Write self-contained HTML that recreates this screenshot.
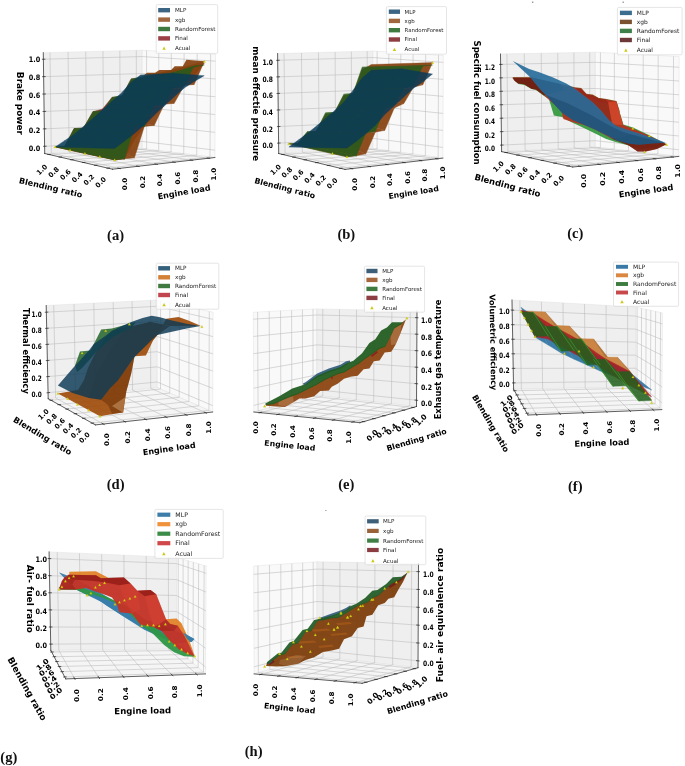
<!DOCTYPE html>
<html lang="en"><head><meta charset="utf-8"><title>Model prediction surfaces</title>
<style>
html,body{margin:0;padding:0;background:#fff;}
body{width:685px;height:766px;overflow:hidden;}
svg{display:block;}
text{white-space:pre;}
</style></head><body>
<svg width="685" height="766" viewBox="0 0 685 766">
<rect width="685" height="766" fill="#fff"/>
<g id="plot-a">
<polygon points="44.7,153.5 142.3,148.5 142.2,50.2 43.3,52.7" fill="#efefef" stroke="#e0e0e0" stroke-width="0.45"/>
<polygon points="142.3,148.5 214.9,157.5 215.6,54.5 142.2,50.2" fill="#f9f9f9" stroke="#e0e0e0" stroke-width="0.5"/>
<polygon points="112.5,169.2 214.9,157.5 142.3,148.5 44.7,153.5" fill="#f5f5f5" stroke="#e0e0e0" stroke-width="0.5"/>
<g stroke="#b9b9b9" stroke-width="0.55" fill="none">
<path d="M119.44 168.41L51.31 153.16"/>
<path d="M51.31 153.16L50 52.53"/>
<path d="M138.16 166.27L69.16 152.25"/>
<path d="M69.16 152.25L68.08 52.07"/>
<path d="M156.44 164.18L86.58 151.35"/>
<path d="M86.58 151.35L85.74 51.63"/>
<path d="M174.29 162.14L103.6 150.48"/>
<path d="M103.6 150.48L102.98 51.19"/>
<path d="M191.74 160.15L120.22 149.63"/>
<path d="M120.22 149.63L119.83 50.77"/>
<path d="M208.78 158.2L136.47 148.8"/>
<path d="M136.47 148.8L136.29 50.35"/>
<path d="M107.91 168.14L209.98 156.89"/>
<path d="M209.98 156.89L210.63 54.21"/>
<path d="M95.51 165.27L196.71 155.24"/>
<path d="M196.71 155.24L197.21 53.42"/>
<path d="M83.41 162.46L183.75 153.64"/>
<path d="M183.75 153.64L184.1 52.65"/>
<path d="M71.59 159.73L171.09 152.07"/>
<path d="M171.09 152.07L171.31 51.91"/>
<path d="M60.04 157.05L158.72 150.54"/>
<path d="M158.72 150.54L158.8 51.17"/>
<path d="M48.75 154.44L146.64 149.04"/>
<path d="M146.64 149.04L146.58 50.46"/>
<path d="M44.6 146.28L142.29 141.45"/>
<path d="M142.29 141.45L214.95 150.12"/>
<path d="M44.36 128.87L142.28 124.48"/>
<path d="M142.28 124.48L215.07 132.33"/>
<path d="M44.12 111.46L142.26 107.5"/>
<path d="M142.26 107.5L215.19 114.54"/>
<path d="M43.87 94.05L142.24 90.52"/>
<path d="M142.24 90.52L215.31 96.75"/>
<path d="M43.63 76.64L142.22 73.54"/>
<path d="M142.22 73.54L215.43 78.96"/>
<path d="M43.39 59.23L142.21 56.57"/>
<path d="M142.21 56.57L215.55 61.17"/>
</g>
<g stroke="#222" stroke-width="0.7" stroke-linecap="square">
<path d="M44.7 153.5L43.3 52.7"/>
<path d="M112.5 169.2L44.7 153.5"/>
<path d="M112.5 169.2L214.9 157.5"/>
<path d="M46.13 146.2L43.58 146.33"/>
<path d="M45.89 128.8L43.34 128.91"/>
<path d="M45.64 111.39L43.1 111.5"/>
<path d="M45.4 93.99L42.85 94.08"/>
<path d="M45.16 76.59L42.61 76.67"/>
<path d="M44.92 59.19L42.37 59.26"/>
<path d="M117.94 168.07L120.43 168.63"/>
<path d="M136.66 165.96L139.16 166.47"/>
<path d="M154.94 163.9L157.44 164.36"/>
<path d="M172.79 161.89L175.3 162.31"/>
<path d="M190.22 159.92L192.75 160.29"/>
<path d="M207.27 158L209.79 158.33"/>
<path d="M109.43 167.97L106.89 168.25"/>
<path d="M97.03 165.12L94.5 165.37"/>
<path d="M84.93 162.33L82.39 162.55"/>
<path d="M73.11 159.61L70.57 159.8"/>
<path d="M61.56 156.95L59.02 157.12"/>
<path d="M50.28 154.35L47.73 154.49"/>
</g>
<text transform="translate(40.3 148.2) scale(1 1.15)" font-size="6.5" text-anchor="end" font-weight="bold" font-family="'DejaVu Sans', sans-serif" fill="#000" dy="0.36em">0.0</text>
<text transform="translate(40.3 130.48) scale(1 1.15)" font-size="6.5" text-anchor="end" font-weight="bold" font-family="'DejaVu Sans', sans-serif" fill="#000" dy="0.36em">0.2</text>
<text transform="translate(40.3 112.76) scale(1 1.15)" font-size="6.5" text-anchor="end" font-weight="bold" font-family="'DejaVu Sans', sans-serif" fill="#000" dy="0.36em">0.4</text>
<text transform="translate(40.3 95.04) scale(1 1.15)" font-size="6.5" text-anchor="end" font-weight="bold" font-family="'DejaVu Sans', sans-serif" fill="#000" dy="0.36em">0.6</text>
<text transform="translate(40.3 77.32) scale(1 1.15)" font-size="6.5" text-anchor="end" font-weight="bold" font-family="'DejaVu Sans', sans-serif" fill="#000" dy="0.36em">0.8</text>
<text transform="translate(40.3 59.6) scale(1 1.15)" font-size="6.5" text-anchor="end" font-weight="bold" font-family="'DejaVu Sans', sans-serif" fill="#000" dy="0.36em">1.0</text>
<text transform="translate(124.4 184) rotate(-90) scale(1.1 1)" font-size="6.5" text-anchor="middle" font-weight="bold" font-family="'DejaVu Sans', sans-serif" fill="#000" dy="0.36em">0.0</text>
<text transform="translate(142.26 182.02) rotate(-90) scale(1.1 1)" font-size="6.5" text-anchor="middle" font-weight="bold" font-family="'DejaVu Sans', sans-serif" fill="#000" dy="0.36em">0.2</text>
<text transform="translate(160.12 180.04) rotate(-90) scale(1.1 1)" font-size="6.5" text-anchor="middle" font-weight="bold" font-family="'DejaVu Sans', sans-serif" fill="#000" dy="0.36em">0.4</text>
<text transform="translate(177.98 178.06) rotate(-90) scale(1.1 1)" font-size="6.5" text-anchor="middle" font-weight="bold" font-family="'DejaVu Sans', sans-serif" fill="#000" dy="0.36em">0.6</text>
<text transform="translate(195.84 176.08) rotate(-90) scale(1.1 1)" font-size="6.5" text-anchor="middle" font-weight="bold" font-family="'DejaVu Sans', sans-serif" fill="#000" dy="0.36em">0.8</text>
<text transform="translate(213.7 174.1) rotate(-90) scale(1.1 1)" font-size="6.5" text-anchor="middle" font-weight="bold" font-family="'DejaVu Sans', sans-serif" fill="#000" dy="0.36em">1.0</text>
<text transform="translate(100.6 182.2) rotate(-45)" font-size="6.76" text-anchor="middle" font-weight="bold" font-family="'DejaVu Sans', sans-serif" fill="#000" dy="0.36em">0.0</text>
<text transform="translate(88.84 179.68) rotate(-45)" font-size="6.76" text-anchor="middle" font-weight="bold" font-family="'DejaVu Sans', sans-serif" fill="#000" dy="0.36em">0.2</text>
<text transform="translate(77.08 177.16) rotate(-45)" font-size="6.76" text-anchor="middle" font-weight="bold" font-family="'DejaVu Sans', sans-serif" fill="#000" dy="0.36em">0.4</text>
<text transform="translate(65.32 174.64) rotate(-45)" font-size="6.76" text-anchor="middle" font-weight="bold" font-family="'DejaVu Sans', sans-serif" fill="#000" dy="0.36em">0.6</text>
<text transform="translate(53.56 172.12) rotate(-45)" font-size="6.76" text-anchor="middle" font-weight="bold" font-family="'DejaVu Sans', sans-serif" fill="#000" dy="0.36em">0.8</text>
<text transform="translate(41.8 169.6) rotate(-45)" font-size="6.76" text-anchor="middle" font-weight="bold" font-family="'DejaVu Sans', sans-serif" fill="#000" dy="0.36em">1.0</text>
<text transform="translate(20 103.4) rotate(90) scale(1.1 1)" font-size="8.1" text-anchor="middle" font-weight="bold" font-family="'DejaVu Sans', sans-serif" fill="#000" dy="0.36em">Brake power</text>
<text transform="translate(50.8 187.5) rotate(13)" font-size="8.1" text-anchor="middle" font-weight="bold" font-family="'DejaVu Sans', sans-serif" fill="#000" dy="0.36em">Blending ratio</text>
<text transform="translate(184 192) rotate(-10)" font-size="8.1" text-anchor="middle" font-weight="bold" font-family="'DejaVu Sans', sans-serif" fill="#000" dy="0.36em">Engine load</text>
<g opacity="0.92" stroke-width="0.4" stroke-linejoin="round">
<polygon points="55.15,146.92 64.66,146.41 124.56,158.85 114.66,159.93" fill="#8e2a26" stroke="#8e2a26"/>
<polygon points="64.66,146.41 73.99,128.55 134.45,139.66 124.56,158.85" fill="#8e2a26" stroke="#8e2a26"/>
<polygon points="73.99,128.55 83.51,128.08 144.37,126.45 134.45,139.66" fill="#8e2a26" stroke="#8e2a26"/>
<polygon points="83.51,128.08 92.91,111.64 154.31,115.1 144.37,126.45" fill="#8e2a26" stroke="#8e2a26"/>
<polygon points="92.91,111.64 102.45,109.06 164.27,104.25 154.31,115.1" fill="#8e2a26" stroke="#8e2a26"/>
<polygon points="102.45,109.06 111.94,97.47 174.25,95.25 164.27,104.25" fill="#8e2a26" stroke="#8e2a26"/>
<polygon points="111.94,97.47 121.5,97.07 184.25,85.41 174.25,95.25" fill="#8e2a26" stroke="#8e2a26"/>
<polygon points="121.5,97.07 131.01,79.15 194.27,75.61 184.25,85.41" fill="#8e2a26" stroke="#8e2a26"/>
<polygon points="131.01,79.15 140.6,78.8 204.32,63.2 194.27,75.61" fill="#8e2a26" stroke="#8e2a26"/>
</g>
<g opacity="0.93" stroke-width="0.4" stroke-linejoin="round">
<polygon points="55.15,146.92 64.66,146.41 124.56,158.85 114.66,159.93" fill="#87420f" stroke="#87420f"/>
<polygon points="64.66,146.41 74,130.28 134.47,157.78 124.56,158.85" fill="#87420f" stroke="#87420f"/>
<polygon points="74,130.28 83.51,128.08 144.37,126.45 134.47,157.78" fill="#87420f" stroke="#87420f"/>
<polygon points="83.51,128.08 92.92,112.93 154.3,125.46 144.37,126.45" fill="#87420f" stroke="#87420f"/>
<polygon points="92.92,112.93 102.46,111.21 164.27,104.25 154.3,125.46" fill="#87420f" stroke="#87420f"/>
<polygon points="102.46,111.21 111.94,99.19 174.23,103.32 164.27,104.25" fill="#87420f" stroke="#87420f"/>
<polygon points="111.94,99.19 121.5,97.07 184.25,85.41 174.23,103.32" fill="#87420f" stroke="#87420f"/>
<polygon points="121.5,97.07 131.02,81.29 194.23,84.52 184.25,85.41" fill="#87420f" stroke="#87420f"/>
<polygon points="131.02,81.29 140.6,78.8 204.33,61.42 194.23,84.52" fill="#87420f" stroke="#87420f"/>
</g>
<g opacity="0.9" stroke-width="0.4" stroke-linejoin="round">
<polygon points="55.15,146.92 64.66,146.41 124.56,158.85 114.66,159.93" fill="#2a5a1c" stroke="#2a5a1c"/>
<polygon points="64.66,146.41 73.99,128.55 134.43,127.44 124.56,158.85" fill="#2a5a1c" stroke="#2a5a1c"/>
<polygon points="73.99,128.55 83.51,128.08 144.37,126.45 134.43,127.44" fill="#2a5a1c" stroke="#2a5a1c"/>
<polygon points="83.51,128.08 92.91,111.64 154.32,105.19 144.37,126.45" fill="#2a5a1c" stroke="#2a5a1c"/>
<polygon points="92.91,111.64 102.46,111.21 164.27,104.25 154.32,105.19" fill="#2a5a1c" stroke="#2a5a1c"/>
<polygon points="102.46,111.21 111.94,97.47 174.28,86.3 164.27,104.25" fill="#2a5a1c" stroke="#2a5a1c"/>
<polygon points="111.94,97.47 121.5,97.07 184.25,85.41 174.28,86.3" fill="#2a5a1c" stroke="#2a5a1c"/>
<polygon points="121.5,97.07 131.01,79.15 194.31,65.81 184.25,85.41" fill="#2a5a1c" stroke="#2a5a1c"/>
<polygon points="131.01,79.15 140.6,78.8 204.31,64.97 194.31,65.81" fill="#2a5a1c" stroke="#2a5a1c"/>
</g>
<polygon points="203.94,61.17 186.42,59.71 182.77,66.28 174.74,66.28 171.09,69.93 159.42,69.93 155.04,72.85 147.01,72.85 143.36,75.77 155.04,75.33 171.09,72.7 182.77,69.49 195.91,65.11 203.94,61.9" fill="#87420f" fill-opacity="0.93"/>
<g opacity="0.86" stroke-width="0.4" stroke-linejoin="round">
<polygon points="55.15,146.92 64.59,140.63 94.53,140.99 84.86,147.85" fill="#0a3a58" stroke="#0a3a58"/>
<polygon points="84.86,147.85 94.53,140.99 124.52,141.11 114.62,148.54" fill="#0a3a58" stroke="#0a3a58"/>
<polygon points="64.59,140.63 74.04,134.36 104.22,134.06 94.53,140.99" fill="#0a3a58" stroke="#0a3a58"/>
<polygon points="94.53,140.99 104.22,134.06 134.44,133.49 124.52,141.11" fill="#0a3a58" stroke="#0a3a58"/>
<polygon points="74.04,134.36 83.5,126.57 113.91,125.9 104.22,134.06" fill="#0a3a58" stroke="#0a3a58"/>
<polygon points="104.22,134.06 113.91,125.9 144.37,124.98 134.44,133.49" fill="#0a3a58" stroke="#0a3a58"/>
<polygon points="83.5,126.57 92.96,118.26 123.61,116.78 113.91,125.9" fill="#0a3a58" stroke="#0a3a58"/>
<polygon points="113.91,125.9 123.61,116.78 154.31,115.04 144.37,124.98" fill="#0a3a58" stroke="#0a3a58"/>
<polygon points="92.96,118.26 102.45,109.63 133.34,107.9 123.61,116.78" fill="#0a3a58" stroke="#0a3a58"/>
<polygon points="123.61,116.78 133.34,107.9 164.27,105.91 154.31,115.04" fill="#0a3a58" stroke="#0a3a58"/>
<polygon points="102.45,109.63 111.95,101.19 143.08,99.09 133.34,107.9" fill="#0a3a58" stroke="#0a3a58"/>
<polygon points="133.34,107.9 143.08,99.09 174.25,96.75 164.27,105.91" fill="#0a3a58" stroke="#0a3a58"/>
<polygon points="111.95,101.19 121.48,92.95 152.84,90.13 143.08,99.09" fill="#0a3a58" stroke="#0a3a58"/>
<polygon points="143.08,99.09 152.84,90.13 184.24,87.95 174.25,96.75" fill="#0a3a58" stroke="#0a3a58"/>
<polygon points="121.48,92.95 131.02,82.25 162.62,80.61 152.84,90.13" fill="#0a3a58" stroke="#0a3a58"/>
<polygon points="152.84,90.13 162.62,80.61 194.24,81.45 184.24,87.95" fill="#0a3a58" stroke="#0a3a58"/>
<polygon points="131.02,82.25 140.59,74.96 172.42,73.17 162.62,80.61" fill="#0a3a58" stroke="#0a3a58"/>
<polygon points="162.62,80.61 172.42,73.17 204.25,75.64 194.24,81.45" fill="#0a3a58" stroke="#0a3a58"/>
</g>
<g fill="#d6cf14" stroke="#bdb60a" stroke-width="0.2">
<path d="M114.66 158.68L115.91 161.05L113.41 161.05Z"/>
<path d="M99.78 155.42L101.03 157.8L98.53 157.8Z"/>
<path d="M84.9 152.17L86.15 154.55L83.65 154.55Z"/>
<path d="M70.03 148.92L71.28 151.29L68.78 151.29Z"/>
<path d="M55.15 145.67L56.4 148.04L53.9 148.04Z"/>
<path d="M204.33 60.17L205.58 62.55L203.08 62.55Z"/>
</g>
<rect x="156.2" y="4.6" width="61.5" height="48.8" rx="1.3" fill="#fff" fill-opacity="0.8" stroke="#cfcfcf" stroke-width="0.55"/>
<rect x="158.2" y="8" width="11.8" height="4.4" fill="#3b6582"/>
<text transform="translate(175 10.2)" font-size="5.6" text-anchor="start" font-weight="normal" font-family="'DejaVu Sans', sans-serif" fill="#1a1a1a" dy="0.36em">MLP</text>
<rect x="158.2" y="17.4" width="11.8" height="4.4" fill="#a0673e"/>
<text transform="translate(175 19.6)" font-size="5.6" text-anchor="start" font-weight="normal" font-family="'DejaVu Sans', sans-serif" fill="#1a1a1a" dy="0.36em">xgb</text>
<rect x="158.2" y="26.8" width="11.8" height="4.4" fill="#3f7a40"/>
<text transform="translate(175 29)" font-size="5.6" text-anchor="start" font-weight="normal" font-family="'DejaVu Sans', sans-serif" fill="#1a1a1a" dy="0.36em">RandomForest</text>
<rect x="158.2" y="36.2" width="11.8" height="4.4" fill="#9c4046"/>
<text transform="translate(175 38.4)" font-size="5.6" text-anchor="start" font-weight="normal" font-family="'DejaVu Sans', sans-serif" fill="#1a1a1a" dy="0.36em">Final</text>
<path d="M164.1 46.5L165.8 49.73L162.4 49.73Z" fill="#cdc714"/>
<text transform="translate(175 48.2)" font-size="5.6" text-anchor="start" font-weight="normal" font-family="'DejaVu Sans', sans-serif" fill="#1a1a1a" dy="0.36em">Acual</text>
</g>
<g id="plot-b">
<polygon points="278.7,153.5 372.9,148.5 372.9,51 277.6,53.6" fill="#efefef" stroke="#e0e0e0" stroke-width="0.45"/>
<polygon points="372.9,148.5 442.9,158.1 443.3,55.5 372.9,51" fill="#f9f9f9" stroke="#e0e0e0" stroke-width="0.5"/>
<polygon points="345,169.4 442.9,158.1 372.9,148.5 278.7,153.5" fill="#f5f5f5" stroke="#e0e0e0" stroke-width="0.5"/>
<g stroke="#b9b9b9" stroke-width="0.55" fill="none">
<path d="M351.63 168.63L285.08 153.16"/>
<path d="M285.08 153.16L284.06 53.42"/>
<path d="M369.53 166.57L302.3 152.25"/>
<path d="M302.3 152.25L301.48 52.95"/>
<path d="M387.01 164.55L319.12 151.35"/>
<path d="M319.12 151.35L318.49 52.48"/>
<path d="M404.08 162.58L335.55 150.48"/>
<path d="M335.55 150.48L335.11 52.03"/>
<path d="M420.76 160.66L351.59 149.63"/>
<path d="M351.59 149.63L351.34 51.59"/>
<path d="M437.05 158.78L367.27 148.8"/>
<path d="M367.27 148.8L367.21 51.16"/>
<path d="M340.51 168.32L438.16 157.45"/>
<path d="M438.16 157.45L438.53 55.2"/>
<path d="M328.39 165.42L425.36 155.69"/>
<path d="M425.36 155.69L425.66 54.37"/>
<path d="M316.55 162.58L412.86 153.98"/>
<path d="M412.86 153.98L413.09 53.57"/>
<path d="M304.99 159.8L400.66 152.31"/>
<path d="M400.66 152.31L400.82 52.78"/>
<path d="M293.7 157.1L388.73 150.67"/>
<path d="M388.73 150.67L388.82 52.02"/>
<path d="M282.66 154.45L377.08 149.07"/>
<path d="M377.08 149.07L377.11 51.27"/>
<path d="M278.59 143.1L372.9 138.35"/>
<path d="M372.9 138.35L442.94 147.42"/>
<path d="M278.4 126.54L372.9 122.19"/>
<path d="M372.9 122.19L443.01 130.41"/>
<path d="M278.22 109.98L372.9 106.03"/>
<path d="M372.9 106.03L443.07 113.41"/>
<path d="M278.04 93.42L372.9 89.87"/>
<path d="M372.9 89.87L443.14 96.4"/>
<path d="M277.86 76.87L372.9 73.71"/>
<path d="M372.9 73.71L443.21 79.39"/>
<path d="M277.67 60.31L372.9 57.55"/>
<path d="M372.9 57.55L443.27 62.39"/>
</g>
<g stroke="#222" stroke-width="0.7" stroke-linecap="square">
<path d="M278.7 153.5L277.6 53.6"/>
<path d="M345 169.4L278.7 153.5"/>
<path d="M345 169.4L442.9 158.1"/>
<path d="M280.11 143.02L277.57 143.15"/>
<path d="M279.93 126.47L277.38 126.59"/>
<path d="M279.75 109.92L277.2 110.03"/>
<path d="M279.57 93.37L277.02 93.46"/>
<path d="M279.39 76.81L276.84 76.9"/>
<path d="M279.2 60.26L276.65 60.34"/>
<path d="M350.14 168.29L352.63 168.87"/>
<path d="M368.04 166.25L370.53 166.78"/>
<path d="M385.51 164.26L388.01 164.75"/>
<path d="M402.57 162.31L405.08 162.76"/>
<path d="M419.24 160.42L421.76 160.82"/>
<path d="M435.54 158.56L438.06 158.92"/>
<path d="M342.03 168.15L339.49 168.44"/>
<path d="M329.91 165.26L327.37 165.52"/>
<path d="M318.07 162.44L315.53 162.67"/>
<path d="M306.52 159.69L303.97 159.88"/>
<path d="M295.22 156.99L292.68 157.17"/>
<path d="M284.19 154.36L281.64 154.51"/>
</g>
<text transform="translate(273 145.5) scale(1 1.25)" font-size="6" text-anchor="end" font-weight="bold" font-family="'DejaVu Sans', sans-serif" fill="#000" dy="0.36em">0.0</text>
<text transform="translate(273 128.92) scale(1 1.25)" font-size="6" text-anchor="end" font-weight="bold" font-family="'DejaVu Sans', sans-serif" fill="#000" dy="0.36em">0.2</text>
<text transform="translate(273 112.34) scale(1 1.25)" font-size="6" text-anchor="end" font-weight="bold" font-family="'DejaVu Sans', sans-serif" fill="#000" dy="0.36em">0.4</text>
<text transform="translate(273 95.76) scale(1 1.25)" font-size="6" text-anchor="end" font-weight="bold" font-family="'DejaVu Sans', sans-serif" fill="#000" dy="0.36em">0.6</text>
<text transform="translate(273 79.18) scale(1 1.25)" font-size="6" text-anchor="end" font-weight="bold" font-family="'DejaVu Sans', sans-serif" fill="#000" dy="0.36em">0.8</text>
<text transform="translate(273 62.6) scale(1 1.25)" font-size="6" text-anchor="end" font-weight="bold" font-family="'DejaVu Sans', sans-serif" fill="#000" dy="0.36em">1.0</text>
<text transform="translate(355.1 184.3) rotate(-90) scale(1.1 1)" font-size="6.5" text-anchor="middle" font-weight="bold" font-family="'DejaVu Sans', sans-serif" fill="#000" dy="0.36em">0.0</text>
<text transform="translate(372.54 182) rotate(-90) scale(1.1 1)" font-size="6.5" text-anchor="middle" font-weight="bold" font-family="'DejaVu Sans', sans-serif" fill="#000" dy="0.36em">0.2</text>
<text transform="translate(389.98 179.7) rotate(-90) scale(1.1 1)" font-size="6.5" text-anchor="middle" font-weight="bold" font-family="'DejaVu Sans', sans-serif" fill="#000" dy="0.36em">0.4</text>
<text transform="translate(407.42 177.4) rotate(-90) scale(1.1 1)" font-size="6.5" text-anchor="middle" font-weight="bold" font-family="'DejaVu Sans', sans-serif" fill="#000" dy="0.36em">0.6</text>
<text transform="translate(424.86 175.1) rotate(-90) scale(1.1 1)" font-size="6.5" text-anchor="middle" font-weight="bold" font-family="'DejaVu Sans', sans-serif" fill="#000" dy="0.36em">0.8</text>
<text transform="translate(442.3 172.8) rotate(-90) scale(1.1 1)" font-size="6.5" text-anchor="middle" font-weight="bold" font-family="'DejaVu Sans', sans-serif" fill="#000" dy="0.36em">1.0</text>
<text transform="translate(332 183.2) rotate(-45)" font-size="6.76" text-anchor="middle" font-weight="bold" font-family="'DejaVu Sans', sans-serif" fill="#000" dy="0.36em">0.0</text>
<text transform="translate(320.7 180.48) rotate(-45)" font-size="6.76" text-anchor="middle" font-weight="bold" font-family="'DejaVu Sans', sans-serif" fill="#000" dy="0.36em">0.2</text>
<text transform="translate(309.4 177.76) rotate(-45)" font-size="6.76" text-anchor="middle" font-weight="bold" font-family="'DejaVu Sans', sans-serif" fill="#000" dy="0.36em">0.4</text>
<text transform="translate(298.1 175.04) rotate(-45)" font-size="6.76" text-anchor="middle" font-weight="bold" font-family="'DejaVu Sans', sans-serif" fill="#000" dy="0.36em">0.6</text>
<text transform="translate(286.8 172.32) rotate(-45)" font-size="6.76" text-anchor="middle" font-weight="bold" font-family="'DejaVu Sans', sans-serif" fill="#000" dy="0.36em">0.8</text>
<text transform="translate(275.5 169.6) rotate(-45)" font-size="6.76" text-anchor="middle" font-weight="bold" font-family="'DejaVu Sans', sans-serif" fill="#000" dy="0.36em">1.0</text>
<text transform="translate(255.7 103.8) rotate(90) scale(1.09 1)" font-size="8.1" text-anchor="middle" font-weight="bold" font-family="'DejaVu Sans', sans-serif" fill="#000" dy="0.36em">mean effectie pressure</text>
<text transform="translate(285 188) rotate(14.5)" font-size="7.8" text-anchor="middle" font-weight="bold" font-family="'DejaVu Sans', sans-serif" fill="#000" dy="0.36em">Blending ratio</text>
<text transform="translate(413.6 192.2) rotate(-9)" font-size="7.7" text-anchor="middle" font-weight="bold" font-family="'DejaVu Sans', sans-serif" fill="#000" dy="0.36em">Engine load</text>
<g opacity="0.93" stroke-width="0.4" stroke-linejoin="round">
<polygon points="288.82,143.75 297.99,143.25 356.44,155.76 346.96,156.79" fill="#87420f" stroke="#87420f"/>
<polygon points="297.99,143.25 307.08,132.84 365.91,153.86 356.44,155.76" fill="#87420f" stroke="#87420f"/>
<polygon points="307.08,132.84 316.26,131.21 375.37,132.15 365.91,153.86" fill="#87420f" stroke="#87420f"/>
<polygon points="316.26,131.21 325.34,114.63 384.86,130.31 375.37,132.15" fill="#87420f" stroke="#87420f"/>
<polygon points="325.34,114.63 334.53,112.56 394.36,107.9 384.86,130.31" fill="#87420f" stroke="#87420f"/>
<polygon points="334.53,112.56 343.67,95.77 403.87,103.56 394.36,107.9" fill="#87420f" stroke="#87420f"/>
<polygon points="343.67,95.77 352.89,93.99 413.41,87.28 403.87,103.56" fill="#87420f" stroke="#87420f"/>
<polygon points="352.89,93.99 362.07,69.75 422.94,84.71 413.41,87.28" fill="#87420f" stroke="#87420f"/>
<polygon points="362.07,69.75 371.31,64.55 432.54,62.61 422.94,84.71" fill="#87420f" stroke="#87420f"/>
</g>
<g opacity="0.9" stroke-width="0.4" stroke-linejoin="round">
<polygon points="288.82,143.75 297.99,143.25 356.44,155.76 346.96,156.79" fill="#2a5a1c" stroke="#2a5a1c"/>
<polygon points="297.99,143.25 307.08,131.69 365.87,133.12 356.44,155.76" fill="#2a5a1c" stroke="#2a5a1c"/>
<polygon points="307.08,131.69 316.26,131.21 375.37,131.29 365.87,133.12" fill="#2a5a1c" stroke="#2a5a1c"/>
<polygon points="316.26,131.21 325.33,112.99 384.85,108.82 375.37,131.29" fill="#2a5a1c" stroke="#2a5a1c"/>
<polygon points="325.33,112.99 334.53,112.56 394.36,104.47 384.85,108.82" fill="#2a5a1c" stroke="#2a5a1c"/>
<polygon points="334.53,112.56 343.67,94.38 403.89,88.16 394.36,104.47" fill="#2a5a1c" stroke="#2a5a1c"/>
<polygon points="343.67,94.38 352.89,93.99 413.42,85.58 403.89,88.16" fill="#2a5a1c" stroke="#2a5a1c"/>
<polygon points="352.89,93.99 362.06,67.31 422.99,65.98 413.42,85.58" fill="#2a5a1c" stroke="#2a5a1c"/>
<polygon points="362.06,67.31 371.31,66.99 432.53,65.16 422.99,65.98" fill="#2a5a1c" stroke="#2a5a1c"/>
</g>
<g opacity="0.86" stroke-width="0.4" stroke-linejoin="round">
<polygon points="288.86,147.07 297.97,140.32 327.17,140.92 317.87,147.72" fill="#0a3a58" stroke="#0a3a58"/>
<polygon points="317.87,147.72 327.17,140.92 356.4,141.25 346.93,148.1" fill="#0a3a58" stroke="#0a3a58"/>
<polygon points="297.97,140.32 307.09,133.61 336.47,133.75 327.17,140.92" fill="#0a3a58" stroke="#0a3a58"/>
<polygon points="327.17,140.92 336.47,133.75 365.87,133.64 356.4,141.25" fill="#0a3a58" stroke="#0a3a58"/>
<polygon points="307.09,133.61 316.22,126.25 345.77,125.91 336.47,133.75" fill="#0a3a58" stroke="#0a3a58"/>
<polygon points="336.47,133.75 345.77,125.91 375.36,125.31 365.87,133.64" fill="#0a3a58" stroke="#0a3a58"/>
<polygon points="316.22,126.25 325.37,118.6 355.09,116.65 345.77,125.91" fill="#0a3a58" stroke="#0a3a58"/>
<polygon points="345.77,125.91 355.09,116.65 384.85,114.38 375.36,125.31" fill="#0a3a58" stroke="#0a3a58"/>
<polygon points="325.37,118.6 334.52,110.82 364.43,108.44 355.09,116.65" fill="#0a3a58" stroke="#0a3a58"/>
<polygon points="355.09,116.65 364.43,108.44 394.36,105.76 384.85,114.38" fill="#0a3a58" stroke="#0a3a58"/>
<polygon points="334.52,110.82 343.7,102.16 373.77,99.69 364.43,108.44" fill="#0a3a58" stroke="#0a3a58"/>
<polygon points="364.43,108.44 373.77,99.69 403.88,96.93 394.36,105.76" fill="#0a3a58" stroke="#0a3a58"/>
<polygon points="343.7,102.16 352.88,90.4 383.13,88.55 373.77,99.69" fill="#0a3a58" stroke="#0a3a58"/>
<polygon points="373.77,99.69 383.13,88.55 413.41,88.17 403.88,96.93" fill="#0a3a58" stroke="#0a3a58"/>
<polygon points="352.88,90.4 362.08,78.1 392.51,77.84 383.13,88.55" fill="#0a3a58" stroke="#0a3a58"/>
<polygon points="383.13,88.55 392.51,77.84 422.95,81.69 413.41,88.17" fill="#0a3a58" stroke="#0a3a58"/>
<polygon points="362.08,78.1 371.31,70.23 401.91,68.85 392.51,77.84" fill="#0a3a58" stroke="#0a3a58"/>
<polygon points="392.51,77.84 401.91,68.85 432.5,74.08 422.95,81.69" fill="#0a3a58" stroke="#0a3a58"/>
</g>
<g fill="#d6cf14" stroke="#bdb60a" stroke-width="0.2">
<path d="M346.96 155.54L348.21 157.91L345.71 157.91Z"/>
<path d="M332.42 152.28L333.67 154.65L331.17 154.65Z"/>
<path d="M288.82 142.5L290.07 144.87L287.57 144.87Z"/>
<path d="M432.54 61.36L433.79 63.74L431.29 63.74Z"/>
</g>
<rect x="386.4" y="6.6" width="60.1" height="47.6" rx="1.3" fill="#fff" fill-opacity="0.8" stroke="#cfcfcf" stroke-width="0.55"/>
<rect x="388.8" y="9.5" width="11.2" height="4.4" fill="#3b6582"/>
<text transform="translate(404.6 11.7)" font-size="5.4" text-anchor="start" font-weight="normal" font-family="'DejaVu Sans', sans-serif" fill="#1a1a1a" dy="0.36em">MLP</text>
<rect x="388.8" y="18.7" width="11.2" height="4.4" fill="#a0673e"/>
<text transform="translate(404.6 20.9)" font-size="5.4" text-anchor="start" font-weight="normal" font-family="'DejaVu Sans', sans-serif" fill="#1a1a1a" dy="0.36em">xgb</text>
<rect x="388.8" y="28" width="11.2" height="4.4" fill="#3f7a40"/>
<text transform="translate(404.6 30.2)" font-size="5.4" text-anchor="start" font-weight="normal" font-family="'DejaVu Sans', sans-serif" fill="#1a1a1a" dy="0.36em">RandomForest</text>
<rect x="388.8" y="37.3" width="11.2" height="4.4" fill="#8d3e42"/>
<text transform="translate(404.6 39.5)" font-size="5.4" text-anchor="start" font-weight="normal" font-family="'DejaVu Sans', sans-serif" fill="#1a1a1a" dy="0.36em">Final</text>
<path d="M394.4 47.8L396.1 51.03L392.7 51.03Z" fill="#cdc714"/>
<text transform="translate(404.6 49.5)" font-size="5.4" text-anchor="start" font-weight="normal" font-family="'DejaVu Sans', sans-serif" fill="#1a1a1a" dy="0.36em">Acual</text>
</g>
<g id="plot-c">
<polygon points="501.6,151.6 595.4,147 595.4,52.2 500.5,54" fill="#efefef" stroke="#e0e0e0" stroke-width="0.45"/>
<polygon points="595.4,147 678.8,156.4 679.2,56.6 595.4,52.2" fill="#f9f9f9" stroke="#e0e0e0" stroke-width="0.5"/>
<polygon points="572.7,167 678.8,156.4 595.4,147 501.6,151.6" fill="#f5f5f5" stroke="#e0e0e0" stroke-width="0.5"/>
<g stroke="#b9b9b9" stroke-width="0.55" fill="none">
<path d="M579.89 166.28L507.95 151.29"/>
<path d="M507.95 151.29L506.93 53.88"/>
<path d="M599.29 164.34L525.1 150.45"/>
<path d="M525.1 150.45L524.28 53.55"/>
<path d="M618.23 162.45L541.85 149.63"/>
<path d="M541.85 149.63L541.22 53.23"/>
<path d="M636.73 160.6L558.2 148.82"/>
<path d="M558.2 148.82L557.77 52.91"/>
<path d="M654.8 158.8L574.18 148.04"/>
<path d="M574.18 148.04L573.93 52.61"/>
<path d="M672.46 157.03L589.8 147.27"/>
<path d="M589.8 147.27L589.73 52.31"/>
<path d="M567.88 165.96L673.15 155.76"/>
<path d="M673.15 155.76L673.52 56.3"/>
<path d="M554.88 163.14L657.9 154.04"/>
<path d="M657.9 154.04L658.2 55.5"/>
<path d="M542.19 160.39L643.01 152.37"/>
<path d="M643.01 152.37L643.24 54.71"/>
<path d="M529.79 157.71L628.47 150.73"/>
<path d="M628.47 150.73L628.63 53.94"/>
<path d="M517.68 155.08L614.26 149.13"/>
<path d="M614.26 149.13L614.36 53.2"/>
<path d="M505.85 152.52L600.38 147.56"/>
<path d="M600.38 147.56L600.41 52.46"/>
<path d="M501.53 145.1L595.4 140.69"/>
<path d="M595.4 140.69L678.83 149.75"/>
<path d="M501.38 131.65L595.4 127.62"/>
<path d="M595.4 127.62L678.88 136"/>
<path d="M501.22 118.21L595.4 114.56"/>
<path d="M595.4 114.56L678.94 122.25"/>
<path d="M501.07 104.76L595.4 101.5"/>
<path d="M595.4 101.5L678.99 108.5"/>
<path d="M500.92 91.31L595.4 88.44"/>
<path d="M595.4 88.44L679.05 94.75"/>
<path d="M500.77 77.87L595.4 75.38"/>
<path d="M595.4 75.38L679.1 81.01"/>
<path d="M500.62 64.42L595.4 62.32"/>
<path d="M595.4 62.32L679.16 67.26"/>
</g>
<g stroke="#222" stroke-width="0.7" stroke-linecap="square">
<path d="M501.6 151.6L500.5 54"/>
<path d="M572.7 167L501.6 151.6"/>
<path d="M572.7 167L678.8 156.4"/>
<path d="M503.06 145.03L500.51 145.15"/>
<path d="M502.9 131.59L500.36 131.7"/>
<path d="M502.75 118.15L500.2 118.25"/>
<path d="M502.6 104.71L500.05 104.79"/>
<path d="M502.45 91.27L499.9 91.34"/>
<path d="M502.3 77.83L499.75 77.89"/>
<path d="M502.15 64.39L499.6 64.44"/>
<path d="M578.39 165.97L580.89 166.49"/>
<path d="M597.78 164.06L600.29 164.53"/>
<path d="M616.72 162.2L619.23 162.62"/>
<path d="M635.21 160.38L637.74 160.75"/>
<path d="M653.28 158.6L655.81 158.93"/>
<path d="M670.94 156.85L673.48 157.15"/>
<path d="M569.41 165.81L566.87 166.06"/>
<path d="M556.41 163.01L553.87 163.23"/>
<path d="M543.72 160.27L541.17 160.47"/>
<path d="M531.32 157.6L528.78 157.78"/>
<path d="M519.21 154.99L516.66 155.15"/>
<path d="M507.38 152.44L504.83 152.57"/>
</g>
<text transform="translate(495 148.6) scale(1 1.3)" font-size="5.8" text-anchor="end" font-weight="bold" font-family="'DejaVu Sans', sans-serif" fill="#000" dy="0.36em">0.0</text>
<text transform="translate(495 135.1) scale(1 1.3)" font-size="5.8" text-anchor="end" font-weight="bold" font-family="'DejaVu Sans', sans-serif" fill="#000" dy="0.36em">0.2</text>
<text transform="translate(495 121.6) scale(1 1.3)" font-size="5.8" text-anchor="end" font-weight="bold" font-family="'DejaVu Sans', sans-serif" fill="#000" dy="0.36em">0.4</text>
<text transform="translate(495 108.1) scale(1 1.3)" font-size="5.8" text-anchor="end" font-weight="bold" font-family="'DejaVu Sans', sans-serif" fill="#000" dy="0.36em">0.6</text>
<text transform="translate(495 94.6) scale(1 1.3)" font-size="5.8" text-anchor="end" font-weight="bold" font-family="'DejaVu Sans', sans-serif" fill="#000" dy="0.36em">0.8</text>
<text transform="translate(495 81.1) scale(1 1.3)" font-size="5.8" text-anchor="end" font-weight="bold" font-family="'DejaVu Sans', sans-serif" fill="#000" dy="0.36em">1.0</text>
<text transform="translate(495 67.6) scale(1 1.3)" font-size="5.8" text-anchor="end" font-weight="bold" font-family="'DejaVu Sans', sans-serif" fill="#000" dy="0.36em">1.2</text>
<text transform="translate(583.9 180.8) rotate(-90) scale(1.18 1)" font-size="6.6" text-anchor="middle" font-weight="bold" font-family="'DejaVu Sans', sans-serif" fill="#000" dy="0.36em">0.0</text>
<text transform="translate(602.66 178.82) rotate(-90) scale(1.18 1)" font-size="6.6" text-anchor="middle" font-weight="bold" font-family="'DejaVu Sans', sans-serif" fill="#000" dy="0.36em">0.2</text>
<text transform="translate(621.42 176.84) rotate(-90) scale(1.18 1)" font-size="6.6" text-anchor="middle" font-weight="bold" font-family="'DejaVu Sans', sans-serif" fill="#000" dy="0.36em">0.4</text>
<text transform="translate(640.18 174.86) rotate(-90) scale(1.18 1)" font-size="6.6" text-anchor="middle" font-weight="bold" font-family="'DejaVu Sans', sans-serif" fill="#000" dy="0.36em">0.6</text>
<text transform="translate(658.94 172.88) rotate(-90) scale(1.18 1)" font-size="6.6" text-anchor="middle" font-weight="bold" font-family="'DejaVu Sans', sans-serif" fill="#000" dy="0.36em">0.8</text>
<text transform="translate(677.7 170.9) rotate(-90) scale(1.18 1)" font-size="6.6" text-anchor="middle" font-weight="bold" font-family="'DejaVu Sans', sans-serif" fill="#000" dy="0.36em">1.0</text>
<text transform="translate(558.6 180.8) rotate(-45)" font-size="6.86" text-anchor="middle" font-weight="bold" font-family="'DejaVu Sans', sans-serif" fill="#000" dy="0.36em">0.0</text>
<text transform="translate(546.54 177.92) rotate(-45)" font-size="6.86" text-anchor="middle" font-weight="bold" font-family="'DejaVu Sans', sans-serif" fill="#000" dy="0.36em">0.2</text>
<text transform="translate(534.48 175.04) rotate(-45)" font-size="6.86" text-anchor="middle" font-weight="bold" font-family="'DejaVu Sans', sans-serif" fill="#000" dy="0.36em">0.4</text>
<text transform="translate(522.42 172.16) rotate(-45)" font-size="6.86" text-anchor="middle" font-weight="bold" font-family="'DejaVu Sans', sans-serif" fill="#000" dy="0.36em">0.6</text>
<text transform="translate(510.36 169.28) rotate(-45)" font-size="6.86" text-anchor="middle" font-weight="bold" font-family="'DejaVu Sans', sans-serif" fill="#000" dy="0.36em">0.8</text>
<text transform="translate(498.3 166.4) rotate(-45)" font-size="6.86" text-anchor="middle" font-weight="bold" font-family="'DejaVu Sans', sans-serif" fill="#000" dy="0.36em">1.0</text>
<text transform="translate(476.5 102.6) rotate(90) scale(1.07 1)" font-size="8" text-anchor="middle" font-weight="bold" font-family="'DejaVu Sans', sans-serif" fill="#000" dy="0.36em">Specific fuel consumption</text>
<text transform="translate(507.6 185.3) rotate(15)" font-size="8.5" text-anchor="middle" font-weight="bold" font-family="'DejaVu Sans', sans-serif" fill="#000" dy="0.36em">Blending ratio</text>
<text transform="translate(646 190.8) rotate(-8)" font-size="8.3" text-anchor="middle" font-weight="bold" font-family="'DejaVu Sans', sans-serif" fill="#000" dy="0.36em">Engine load</text>
<polygon points="512.8,77.7 531.4,77.7 575,88 581.2,88.7 586.5,94.4 592.7,95.2 598.8,98.2 605.3,99.2 616.4,101.5 623.4,124.5 633,127.5 648.9,135 666.5,144.3 666.5,144.3 656,148 640,149 625,144.5 615.5,141.9 605.6,138.8 595.7,133.8 583.8,127.9 572.1,122.5 561.9,116.9 553.9,115.5 548.8,98.7 544,96 536,90 531.5,89 524.5,85 518.5,84 515,81 512.8,78.5" fill="#2f9636" fill-opacity="0.9"/>
<polygon points="512.8,77.2 531.4,77.2 575,87.3 581.2,88 586.5,93.7 592.7,94.5 598.8,97.9 605.3,98.8 616.4,101.1 620,112 620,112 612,105 605.3,103 598.8,102 592.7,99 586.5,98 581.2,93 575,92 531.4,80 512.8,78.2" fill="#8a4a18" fill-opacity="0.9"/>
<polygon points="512.8,77.7 531.4,77.7 575,88 581.2,88.7 586.5,94.4 592.7,95.2 598.8,98.6 605.3,99.5 616.4,101.8 623.2,125 631.5,128.1 648.9,135.5 666.5,144.3 666.5,144.3 656.9,149.1 645.7,151.5 637.6,151.5 628,145.1 611.9,138.7 595,129.5 583.8,125 572.1,122 563.4,119.1 561.9,112.6 556,106 543.8,95.3 535.8,89.4 531.4,88.7 524.1,84.3 518.2,83.6 514.6,80.7 512.8,78.2" fill="#b5301f" fill-opacity="0.92"/>
<polygon points="512.8,77.7 531.4,77.7 560,84 566,90 543.8,95.3 535.8,89.4 531.4,88.7 524.1,84.3 518.2,83.6 514.6,80.7" fill="#4a1208" fill-opacity="0.6"/>
<polygon points="611.9,138.7 628,145.1 637.6,151.5 645.7,151.5 656.9,149.1 666.5,144.3 650,138 635,134" fill="#4a1208" fill-opacity="0.55"/>
<polygon points="608.1,102.2 616.4,101.8 623.2,125 612.2,124.5" fill="#e8502e" fill-opacity="0.55"/>
<polygon points="575,88 581.2,88.7 586.5,94.4 592.7,95.2 598.8,98.6 605.3,99.5 608.1,102.2 612.2,124.5 601.5,111 593,102.5 583.8,95.5" fill="#5e140c" fill-opacity="0.3"/>
<polygon points="512.8,60.9 529.2,69 540,72.4 553.1,77.5 566.3,83.4 575,88.8 583.8,95.5 593,102.5 601.5,111 609,120 616.3,126 628,130 639.5,133.5 650.5,137.1 665.7,142.7 665.7,142.7 652.1,143.5 639.5,144.8 629,143.7 617.5,140.7 607.2,135.5 595,129.5 584,124.8 572.5,120 562,112.8 555,105.3 548.5,98 540,89.2 529.2,76.3 512.8,60.9" fill="#256a9a" fill-opacity="0.9"/>
<polygon points="548.5,98 555,105.3 562,112.8 572.5,120 584,124.8 595,129.5 607.2,135.5 617.5,140.7 629,143.7 639.5,144.8 652.1,143.5 665.7,142.7 664.9,143.2 640.5,137 621.6,131.5 608.1,124.8 589.2,114 567.6,103.2 545.9,95" fill="#0e3350" fill-opacity="0.3"/>
<g fill="#d6cf14" stroke="#bdb60a" stroke-width="0.2">
<path d="M632.8 127.05L634.05 129.43L631.55 129.43Z"/>
<path d="M649.4 134.55L650.65 136.93L648.15 136.93Z"/>
<path d="M666.5 143.35L667.75 145.72L665.25 145.72Z"/>
<path d="M644.4 150.75L645.65 153.12L643.15 153.12Z"/>
</g>
<rect x="617.4" y="7.4" width="64.7" height="47.4" rx="1.3" fill="#fff" fill-opacity="0.8" stroke="#cfcfcf" stroke-width="0.55"/>
<rect x="619.9" y="10.7" width="12" height="4.4" fill="#3b6d8e"/>
<text transform="translate(636.8 12.9)" font-size="5.9" text-anchor="start" font-weight="normal" font-family="'DejaVu Sans', sans-serif" fill="#1a1a1a" dy="0.36em">MLP</text>
<rect x="619.9" y="19.7" width="12" height="4.4" fill="#7a5230"/>
<text transform="translate(636.8 21.9)" font-size="5.9" text-anchor="start" font-weight="normal" font-family="'DejaVu Sans', sans-serif" fill="#1a1a1a" dy="0.36em">xgb</text>
<rect x="619.9" y="28.7" width="12" height="4.4" fill="#3f8048"/>
<text transform="translate(636.8 30.9)" font-size="5.9" text-anchor="start" font-weight="normal" font-family="'DejaVu Sans', sans-serif" fill="#1a1a1a" dy="0.36em">RandomForest</text>
<rect x="619.9" y="37.8" width="12" height="4.4" fill="#6e3838"/>
<text transform="translate(636.8 40)" font-size="5.9" text-anchor="start" font-weight="normal" font-family="'DejaVu Sans', sans-serif" fill="#1a1a1a" dy="0.36em">Final</text>
<path d="M625.9 48.5L627.6 51.73L624.2 51.73Z" fill="#cdc714"/>
<text transform="translate(636.8 50.2)" font-size="5.9" text-anchor="start" font-weight="normal" font-family="'DejaVu Sans', sans-serif" fill="#1a1a1a" dy="0.36em">Acual</text>
</g>
<g id="plot-d">
<polygon points="48.2,398.7 157.2,387.6 157.2,300 46.2,305.5" fill="#efefef" stroke="#e0e0e0" stroke-width="0.45"/>
<polygon points="157.2,387.6 212.7,412 213.1,312.2 157.2,300" fill="#f9f9f9" stroke="#e0e0e0" stroke-width="0.5"/>
<polygon points="95.4,424.9 212.7,412 157.2,387.6 48.2,398.7" fill="#f5f5f5" stroke="#e0e0e0" stroke-width="0.5"/>
<g stroke="#b9b9b9" stroke-width="0.55" fill="none">
<path d="M103.35 424.03L55.58 397.95"/>
<path d="M55.58 397.95L53.72 305.13"/>
<path d="M124.79 421.67L75.51 395.92"/>
<path d="M75.51 395.92L74.01 304.12"/>
<path d="M145.73 419.36L94.97 393.94"/>
<path d="M94.97 393.94L93.83 303.14"/>
<path d="M166.19 417.12L113.98 392"/>
<path d="M113.98 392L113.18 302.18"/>
<path d="M186.17 414.92L132.54 390.11"/>
<path d="M132.54 390.11L132.09 301.24"/>
<path d="M205.69 412.77L150.69 388.26"/>
<path d="M150.69 388.26L150.57 300.33"/>
<path d="M92.2 423.13L208.94 410.35"/>
<path d="M208.94 410.35L209.31 311.37"/>
<path d="M83.57 418.33L198.79 405.89"/>
<path d="M198.79 405.89L199.09 309.14"/>
<path d="M75.15 413.66L188.88 401.53"/>
<path d="M188.88 401.53L189.11 306.96"/>
<path d="M66.92 409.09L179.21 397.28"/>
<path d="M179.21 397.28L179.37 304.84"/>
<path d="M58.88 404.63L169.75 393.12"/>
<path d="M169.75 393.12L169.84 302.76"/>
<path d="M51.02 400.27L160.52 389.06"/>
<path d="M160.52 389.06L160.54 300.73"/>
<path d="M48.07 392.7L157.2 381.96"/>
<path d="M157.2 381.96L212.73 405.58"/>
<path d="M47.73 376.6L157.2 366.83"/>
<path d="M157.2 366.83L212.79 388.33"/>
<path d="M47.38 360.49L157.2 351.69"/>
<path d="M157.2 351.69L212.86 371.09"/>
<path d="M47.03 344.39L157.2 336.55"/>
<path d="M157.2 336.55L212.93 353.84"/>
<path d="M46.69 328.29L157.2 321.42"/>
<path d="M157.2 321.42L213 336.6"/>
<path d="M46.34 312.18L157.2 306.28"/>
<path d="M157.2 306.28L213.07 319.36"/>
</g>
<g stroke="#222" stroke-width="0.7" stroke-linecap="square">
<path d="M48.2 398.7L46.2 305.5"/>
<path d="M95.4 424.9L48.2 398.7"/>
<path d="M95.4 424.9L212.7 412"/>
<path d="M49.59 392.55L47.06 392.8"/>
<path d="M49.25 376.46L46.71 376.69"/>
<path d="M48.91 360.37L46.36 360.58"/>
<path d="M48.56 344.28L46.02 344.46"/>
<path d="M48.22 328.19L45.67 328.35"/>
<path d="M47.87 312.1L45.32 312.24"/>
<path d="M102 423.29L104.24 424.51"/>
<path d="M123.44 420.96L125.7 422.14"/>
<path d="M144.37 418.68L146.65 419.82"/>
<path d="M164.81 416.45L167.11 417.56"/>
<path d="M184.78 414.28L187.09 415.35"/>
<path d="M204.3 412.15L206.62 413.19"/>
<path d="M93.72 422.96L91.19 423.24"/>
<path d="M85.09 418.17L82.56 418.44"/>
<path d="M76.67 413.5L74.13 413.77"/>
<path d="M68.44 408.93L65.9 409.2"/>
<path d="M60.4 404.47L57.86 404.73"/>
<path d="M52.54 400.11L50 400.37"/>
</g>
<text transform="translate(41.7 394.3) scale(1 1.3)" font-size="5.8" text-anchor="end" font-weight="bold" font-family="'DejaVu Sans', sans-serif" fill="#000" dy="0.36em">0.0</text>
<text transform="translate(41.7 378.24) scale(1 1.3)" font-size="5.8" text-anchor="end" font-weight="bold" font-family="'DejaVu Sans', sans-serif" fill="#000" dy="0.36em">0.2</text>
<text transform="translate(41.7 362.18) scale(1 1.3)" font-size="5.8" text-anchor="end" font-weight="bold" font-family="'DejaVu Sans', sans-serif" fill="#000" dy="0.36em">0.4</text>
<text transform="translate(41.7 346.12) scale(1 1.3)" font-size="5.8" text-anchor="end" font-weight="bold" font-family="'DejaVu Sans', sans-serif" fill="#000" dy="0.36em">0.6</text>
<text transform="translate(41.7 330.06) scale(1 1.3)" font-size="5.8" text-anchor="end" font-weight="bold" font-family="'DejaVu Sans', sans-serif" fill="#000" dy="0.36em">0.8</text>
<text transform="translate(41.7 314) scale(1 1.3)" font-size="5.8" text-anchor="end" font-weight="bold" font-family="'DejaVu Sans', sans-serif" fill="#000" dy="0.36em">1.0</text>
<text transform="translate(106.7 439.7) rotate(-90) scale(1.1 1)" font-size="6.5" text-anchor="middle" font-weight="bold" font-family="'DejaVu Sans', sans-serif" fill="#000" dy="0.36em">0.0</text>
<text transform="translate(127.18 437.26) rotate(-90) scale(1.1 1)" font-size="6.5" text-anchor="middle" font-weight="bold" font-family="'DejaVu Sans', sans-serif" fill="#000" dy="0.36em">0.2</text>
<text transform="translate(147.66 434.82) rotate(-90) scale(1.1 1)" font-size="6.5" text-anchor="middle" font-weight="bold" font-family="'DejaVu Sans', sans-serif" fill="#000" dy="0.36em">0.4</text>
<text transform="translate(168.14 432.38) rotate(-90) scale(1.1 1)" font-size="6.5" text-anchor="middle" font-weight="bold" font-family="'DejaVu Sans', sans-serif" fill="#000" dy="0.36em">0.6</text>
<text transform="translate(188.62 429.94) rotate(-90) scale(1.1 1)" font-size="6.5" text-anchor="middle" font-weight="bold" font-family="'DejaVu Sans', sans-serif" fill="#000" dy="0.36em">0.8</text>
<text transform="translate(209.1 427.5) rotate(-90) scale(1.1 1)" font-size="6.5" text-anchor="middle" font-weight="bold" font-family="'DejaVu Sans', sans-serif" fill="#000" dy="0.36em">1.0</text>
<text transform="translate(84.3 437.5) rotate(-45)" font-size="6.76" text-anchor="middle" font-weight="bold" font-family="'DejaVu Sans', sans-serif" fill="#000" dy="0.36em">0.0</text>
<text transform="translate(76.1 432.84) rotate(-45)" font-size="6.76" text-anchor="middle" font-weight="bold" font-family="'DejaVu Sans', sans-serif" fill="#000" dy="0.36em">0.2</text>
<text transform="translate(67.9 428.18) rotate(-45)" font-size="6.76" text-anchor="middle" font-weight="bold" font-family="'DejaVu Sans', sans-serif" fill="#000" dy="0.36em">0.4</text>
<text transform="translate(59.7 423.52) rotate(-45)" font-size="6.76" text-anchor="middle" font-weight="bold" font-family="'DejaVu Sans', sans-serif" fill="#000" dy="0.36em">0.6</text>
<text transform="translate(51.5 418.86) rotate(-45)" font-size="6.76" text-anchor="middle" font-weight="bold" font-family="'DejaVu Sans', sans-serif" fill="#000" dy="0.36em">0.8</text>
<text transform="translate(43.3 414.2) rotate(-45)" font-size="6.76" text-anchor="middle" font-weight="bold" font-family="'DejaVu Sans', sans-serif" fill="#000" dy="0.36em">1.0</text>
<text transform="translate(25.8 351) rotate(90) scale(1.04 1)" font-size="8" text-anchor="middle" font-weight="bold" font-family="'DejaVu Sans', sans-serif" fill="#000" dy="0.36em">Thermal efficiency</text>
<text transform="translate(42.6 435.7) rotate(31)" font-size="8.3" text-anchor="middle" font-weight="bold" font-family="'DejaVu Sans', sans-serif" fill="#000" dy="0.36em">Blending ratio</text>
<text transform="translate(169.2 448.6) rotate(-8)" font-size="8.05" text-anchor="middle" font-weight="bold" font-family="'DejaVu Sans', sans-serif" fill="#000" dy="0.36em">Engine load</text>
<polygon points="57.9,393.5 100,416.2 110,414.4 123.1,412.6 126.3,391.4 131.2,373.4 134.5,356.3 145.9,355.5 153.3,340 157.3,335 166.3,318.8 178.5,317.1 188.3,320.4 200.6,325.8 170,326 150,322 124.8,327.7 111.8,330.2 104,340 96,352 88,368 84,380 78,390" fill="#a04c0a" fill-opacity="0.92"/>
<polygon points="97,372 115,343 126,329 150,322 170,326 157.3,335 153.3,340 134.5,356.3 113,385 101.2,399.8 88.9,397.9" fill="#a04c0a" fill-opacity="0.92"/>
<polygon points="101.2,399.8 113.4,384.8 126.5,368.5 134.5,357 131.2,373.4 126.3,391.4 123.1,412.6 112,413.8 108,405" fill="#5e2a04" fill-opacity="0.45"/>
<polygon points="112,406 122.8,412.5 125.5,397" fill="#e6b888" fill-opacity="0.4"/>
<polygon points="75.1,365.3 80,351.4 90.6,350.6 101.2,329.4 111.8,328.5 128.9,324.1 136,322 131,328 113,337 106,343 96,352 91,358 82,368 77,372" fill="#2e6a34" fill-opacity="0.9"/>
<polygon points="57.9,385.6 72.6,368.5 88.9,350.6 93.8,344 105.3,335.9 111.8,331 119.8,327 131.2,322 142.6,318 151.6,315.8 159,317.1 172,320.4 186.7,323.7 200.6,326.1 200.6,326.1 186.7,328.6 172,331.8 157.3,335.1 151.6,340 142.6,349 134.5,357.1 126.4,368.5 118.2,380 110,388.5 101.2,399.8 88.9,397.9 72.6,393 57.9,385.6" fill="#0c3a55" fill-opacity="0.83"/>
<g fill="#d6cf14" stroke="#bdb60a" stroke-width="0.2">
<path d="M57.9 392.25L59.15 394.62L56.65 394.62Z"/>
<path d="M67.7 397.45L68.95 399.82L66.45 399.82Z"/>
<path d="M77.5 403.15L78.75 405.52L76.25 405.52Z"/>
<path d="M88.6 408.85L89.85 411.23L87.35 411.23Z"/>
<path d="M100 414.95L101.25 417.32L98.75 417.32Z"/>
<path d="M82.1 351.75L83.35 354.12L80.85 354.12Z"/>
<path d="M105.7 329.45L106.95 331.82L104.45 331.82Z"/>
<path d="M129.4 322.85L130.65 325.23L128.15 325.23Z"/>
<path d="M201.9 325.35L203.15 327.73L200.65 327.73Z"/>
</g>
<rect x="156.2" y="263.2" width="62.6" height="46" rx="1.3" fill="#fff" fill-opacity="0.8" stroke="#cfcfcf" stroke-width="0.55"/>
<rect x="158.2" y="266.1" width="11.8" height="4.4" fill="#35607c"/>
<text transform="translate(175 268.3)" font-size="5.73" text-anchor="start" font-weight="normal" font-family="'DejaVu Sans', sans-serif" fill="#1a1a1a" dy="0.36em">MLP</text>
<rect x="158.2" y="275.1" width="11.8" height="4.4" fill="#d48138"/>
<text transform="translate(175 277.3)" font-size="5.73" text-anchor="start" font-weight="normal" font-family="'DejaVu Sans', sans-serif" fill="#1a1a1a" dy="0.36em">xgb</text>
<rect x="158.2" y="283.8" width="11.8" height="4.4" fill="#3f7a40"/>
<text transform="translate(175 286)" font-size="5.73" text-anchor="start" font-weight="normal" font-family="'DejaVu Sans', sans-serif" fill="#1a1a1a" dy="0.36em">RandomForest</text>
<rect x="158.2" y="292.8" width="11.8" height="4.4" fill="#c2464d"/>
<text transform="translate(175 295)" font-size="5.73" text-anchor="start" font-weight="normal" font-family="'DejaVu Sans', sans-serif" fill="#1a1a1a" dy="0.36em">Final</text>
<path d="M164.1 303.1L165.8 306.33L162.4 306.33Z" fill="#cdc714"/>
<text transform="translate(175 304.8)" font-size="5.73" text-anchor="start" font-weight="normal" font-family="'DejaVu Sans', sans-serif" fill="#1a1a1a" dy="0.36em">Acual</text>
</g>
<g id="plot-e">
<polygon points="253.8,412 316.8,395.4 316.8,308.9 253.3,312.2" fill="#f9f9f9" stroke="#e0e0e0" stroke-width="0.45"/>
<polygon points="316.8,395.4 416.5,406.5 417,311 316.8,308.9" fill="#efefef" stroke="#e0e0e0" stroke-width="0.5"/>
<polygon points="253.8,412 359.9,422.7 416.5,406.5 316.8,395.4" fill="#f5f5f5" stroke="#e0e0e0" stroke-width="0.5"/>
<g stroke="#b9b9b9" stroke-width="0.55" fill="none">
<path d="M260.14 412.64L322.75 396.06"/>
<path d="M322.75 396.06L322.78 309.03"/>
<path d="M277.79 414.42L339.34 397.91"/>
<path d="M339.34 397.91L339.46 309.37"/>
<path d="M295.86 416.24L356.32 399.8"/>
<path d="M356.32 399.8L356.52 309.73"/>
<path d="M314.36 418.11L373.71 401.74"/>
<path d="M373.71 401.74L373.99 310.1"/>
<path d="M333.3 420.02L391.51 403.72"/>
<path d="M391.51 403.72L391.88 310.47"/>
<path d="M352.71 421.97L409.74 405.75"/>
<path d="M409.74 405.75L410.21 310.86"/>
<path d="M363.73 421.6L258.07 410.88"/>
<path d="M258.07 410.88L257.6 311.98"/>
<path d="M374.08 418.64L269.59 407.84"/>
<path d="M269.59 407.84L269.21 311.37"/>
<path d="M384.19 415.75L280.83 404.88"/>
<path d="M280.83 404.88L280.55 310.78"/>
<path d="M394.06 412.92L291.82 401.98"/>
<path d="M291.82 401.98L291.62 310.21"/>
<path d="M403.7 410.16L302.55 399.15"/>
<path d="M302.55 399.15L302.44 309.65"/>
<path d="M413.12 407.47L313.04 396.39"/>
<path d="M313.04 396.39L313.01 309.1"/>
<path d="M253.77 405.44L316.8 389.72"/>
<path d="M316.8 389.72L416.53 400.23"/>
<path d="M253.68 388.19L316.8 374.77"/>
<path d="M316.8 374.77L416.62 383.72"/>
<path d="M253.59 370.94L316.8 359.81"/>
<path d="M316.8 359.81L416.71 367.21"/>
<path d="M253.51 353.69L316.8 344.86"/>
<path d="M316.8 344.86L416.79 350.7"/>
<path d="M253.42 336.44L316.8 329.91"/>
<path d="M316.8 329.91L416.88 334.19"/>
<path d="M253.34 319.19L316.8 314.96"/>
<path d="M316.8 314.96L416.96 317.69"/>
</g>
<g stroke="#222" stroke-width="0.7" stroke-linecap="square">
<path d="M416.5 406.5L417 311"/>
<path d="M359.9 422.7L416.5 406.5"/>
<path d="M253.8 412L359.9 422.7"/>
<path d="M415.01 400.07L417.55 400.33"/>
<path d="M415.1 383.58L417.64 383.81"/>
<path d="M415.18 367.1L417.72 367.29"/>
<path d="M415.26 350.61L417.81 350.76"/>
<path d="M415.35 334.13L417.9 334.24"/>
<path d="M415.44 317.64L417.98 317.71"/>
<path d="M261.61 412.25L259.15 412.9"/>
<path d="M279.27 414.02L276.81 414.68"/>
<path d="M297.34 415.84L294.88 416.51"/>
<path d="M315.84 417.7L313.38 418.38"/>
<path d="M334.78 419.61L332.32 420.29"/>
<path d="M354.18 421.56L351.73 422.25"/>
<path d="M362.21 421.45L364.75 421.71"/>
<path d="M372.56 418.48L375.1 418.75"/>
<path d="M382.67 415.59L385.2 415.86"/>
<path d="M392.53 412.76L395.07 413.03"/>
<path d="M402.18 410L404.71 410.27"/>
<path d="M411.6 407.3L414.13 407.58"/>
</g>
<text transform="translate(421 403.6) scale(1 1.2)" font-size="6.2" text-anchor="start" font-weight="bold" font-family="'DejaVu Sans', sans-serif" fill="#000" dy="0.36em">0.0</text>
<text transform="translate(421 387) scale(1 1.2)" font-size="6.2" text-anchor="start" font-weight="bold" font-family="'DejaVu Sans', sans-serif" fill="#000" dy="0.36em">0.2</text>
<text transform="translate(421 370.4) scale(1 1.2)" font-size="6.2" text-anchor="start" font-weight="bold" font-family="'DejaVu Sans', sans-serif" fill="#000" dy="0.36em">0.4</text>
<text transform="translate(421 353.8) scale(1 1.2)" font-size="6.2" text-anchor="start" font-weight="bold" font-family="'DejaVu Sans', sans-serif" fill="#000" dy="0.36em">0.6</text>
<text transform="translate(421 337.2) scale(1 1.2)" font-size="6.2" text-anchor="start" font-weight="bold" font-family="'DejaVu Sans', sans-serif" fill="#000" dy="0.36em">0.8</text>
<text transform="translate(421 320.6) scale(1 1.2)" font-size="6.2" text-anchor="start" font-weight="bold" font-family="'DejaVu Sans', sans-serif" fill="#000" dy="0.36em">1.0</text>
<text transform="translate(255.5 427.5) rotate(-90) scale(1.1 1)" font-size="6.5" text-anchor="middle" font-weight="bold" font-family="'DejaVu Sans', sans-serif" fill="#000" dy="0.36em">0.0</text>
<text transform="translate(274.14 429.5) rotate(-90) scale(1.1 1)" font-size="6.5" text-anchor="middle" font-weight="bold" font-family="'DejaVu Sans', sans-serif" fill="#000" dy="0.36em">0.2</text>
<text transform="translate(292.78 431.5) rotate(-90) scale(1.1 1)" font-size="6.5" text-anchor="middle" font-weight="bold" font-family="'DejaVu Sans', sans-serif" fill="#000" dy="0.36em">0.4</text>
<text transform="translate(311.42 433.5) rotate(-90) scale(1.1 1)" font-size="6.5" text-anchor="middle" font-weight="bold" font-family="'DejaVu Sans', sans-serif" fill="#000" dy="0.36em">0.6</text>
<text transform="translate(330.06 435.5) rotate(-90) scale(1.1 1)" font-size="6.5" text-anchor="middle" font-weight="bold" font-family="'DejaVu Sans', sans-serif" fill="#000" dy="0.36em">0.8</text>
<text transform="translate(348.7 437.5) rotate(-90) scale(1.1 1)" font-size="6.5" text-anchor="middle" font-weight="bold" font-family="'DejaVu Sans', sans-serif" fill="#000" dy="0.36em">1.0</text>
<text transform="translate(372.1 435.3) rotate(-45)" font-size="7.3" text-anchor="middle" font-weight="bold" font-family="'DejaVu Sans', sans-serif" fill="#000" dy="0.36em">0.0</text>
<text transform="translate(381.86 432.2) rotate(-45)" font-size="7.3" text-anchor="middle" font-weight="bold" font-family="'DejaVu Sans', sans-serif" fill="#000" dy="0.36em">0.2</text>
<text transform="translate(391.62 429.1) rotate(-45)" font-size="7.3" text-anchor="middle" font-weight="bold" font-family="'DejaVu Sans', sans-serif" fill="#000" dy="0.36em">0.4</text>
<text transform="translate(401.38 426) rotate(-45)" font-size="7.3" text-anchor="middle" font-weight="bold" font-family="'DejaVu Sans', sans-serif" fill="#000" dy="0.36em">0.6</text>
<text transform="translate(411.14 422.9) rotate(-45)" font-size="7.3" text-anchor="middle" font-weight="bold" font-family="'DejaVu Sans', sans-serif" fill="#000" dy="0.36em">0.8</text>
<text transform="translate(420.9 419.8) rotate(-45)" font-size="7.3" text-anchor="middle" font-weight="bold" font-family="'DejaVu Sans', sans-serif" fill="#000" dy="0.36em">1.0</text>
<text transform="translate(438.1 359.4) rotate(-90) scale(1.05 1)" font-size="8" text-anchor="middle" font-weight="bold" font-family="'DejaVu Sans', sans-serif" fill="#000" dy="0.36em">Exhaust gas temperature</text>
<text transform="translate(416.5 439.7) rotate(-16.5)" font-size="7.8" text-anchor="middle" font-weight="bold" font-family="'DejaVu Sans', sans-serif" fill="#000" dy="0.36em">Blending ratio</text>
<text transform="translate(289.9 445.3) rotate(6)" font-size="7.75" text-anchor="middle" font-weight="bold" font-family="'DejaVu Sans', sans-serif" fill="#000" dy="0.36em">Engine load</text>
<polygon points="265.3,404.5 273.4,403.2 288,396.7 298.2,393 308.4,387.9 317.2,383.5 325.9,378.4 337.6,373.3 344.6,371.2 351.9,366.8 359.2,362.4 365,358 372.3,352.9 379.6,347.8 385.5,345.6 389.9,336.8 394.2,327.4 401.5,323 405.9,319.6 405.9,319.6 400.1,334.2 395.7,344.4 391.3,351.7 384.7,352.4 379.6,360.5 373.8,361.2 369.4,368.5 363.6,369.2 357.7,375.8 350.4,376.8 344,378.8 337.6,383.8 331.8,386.7 328.8,390.4 320.1,391.1 314.2,396.2 305.5,398.4 299.6,398.4 293.8,402 285,406.9 276.3,406.4 266.1,405.7" fill="#8c4410" fill-opacity="0.94"/>
<polygon points="279,400.5 293,396 293.8,402 285,406.5 278,405" fill="#e0b890" fill-opacity="0.28"/>
<polygon points="390.5,337 394.5,328 401.5,324.5 400.1,334.2 395.7,344.4 391,345" fill="#e0b890" fill-opacity="0.28"/>
<polygon points="330.5,377.8 333,376.8 332.5,379" fill="#8a1c20" fill-opacity="0.9"/>
<polygon points="371,355.5 377,351 377.8,352.6 372,357" fill="#8a1c20" fill-opacity="0.85"/>
<polygon points="303,383.5 305.5,382.3 317.2,373.6 328.8,368.5 340.5,364.8 346.1,361.2 350,360.5 350,362.5 346.1,365.2 340.5,368.8 328.8,372.5 317.2,377.6 305.5,385.3 303,384.5" fill="#355f7c" fill-opacity="0.95"/>
<polygon points="265.3,403.5 279.2,396.2 292.3,388.4 305.5,384.3 317.2,375.8 328.8,370.7 340.5,367 346.1,363.4 353.4,360.7 362.1,353.2 369.4,343 375.3,339.3 381.1,330.5 386.9,327.6 392,322.2 403,322.2 405.9,319.6 405.9,319.6 401.5,324 394.2,328.4 389.9,337.8 385.5,346.6 379.6,348.8 372.3,353.9 365,359 359.2,363.4 351.9,367.8 344.6,372.2 337.6,374.3 325.9,379.4 317.2,384.5 308.4,388.9 298.2,394 288,397.7 273.4,404.2 266,405" fill="#1f5a1e" fill-opacity="0.93"/>
<g fill="#d6cf14" stroke="#bdb60a" stroke-width="0.2">
<path d="M264.6 404.85L265.85 407.23L263.35 407.23Z"/>
<path d="M406.9 316.85L408.15 319.23L405.65 319.23Z"/>
</g>
<rect x="364.4" y="266.2" width="60.2" height="46" rx="1.3" fill="#fff" fill-opacity="0.8" stroke="#cfcfcf" stroke-width="0.55"/>
<rect x="366.4" y="268.8" width="11.1" height="4.4" fill="#3d5f78"/>
<text transform="translate(382.2 271)" font-size="5.5" text-anchor="start" font-weight="normal" font-family="'DejaVu Sans', sans-serif" fill="#1a1a1a" dy="0.36em">MLP</text>
<rect x="366.4" y="277.7" width="11.1" height="4.4" fill="#a5673b"/>
<text transform="translate(382.2 279.9)" font-size="5.5" text-anchor="start" font-weight="normal" font-family="'DejaVu Sans', sans-serif" fill="#1a1a1a" dy="0.36em">xgb</text>
<rect x="366.4" y="286.7" width="11.1" height="4.4" fill="#3f7a40"/>
<text transform="translate(382.2 288.9)" font-size="5.5" text-anchor="start" font-weight="normal" font-family="'DejaVu Sans', sans-serif" fill="#1a1a1a" dy="0.36em">RandomForest</text>
<rect x="366.4" y="295.7" width="11.1" height="4.4" fill="#8d3e42"/>
<text transform="translate(382.2 297.9)" font-size="5.5" text-anchor="start" font-weight="normal" font-family="'DejaVu Sans', sans-serif" fill="#1a1a1a" dy="0.36em">Final</text>
<path d="M371.95 305.9L373.65 309.13L370.25 309.13Z" fill="#cdc714"/>
<text transform="translate(382.2 307.6)" font-size="5.5" text-anchor="start" font-weight="normal" font-family="'DejaVu Sans', sans-serif" fill="#1a1a1a" dy="0.36em">Acual</text>
</g>
<g id="plot-f">
<polygon points="513.6,389.2 635.5,386.9 635.5,307 512,300" fill="#efefef" stroke="#e0e0e0" stroke-width="0.45"/>
<polygon points="635.5,386.9 661.8,409.6 662.5,312.9 635.5,307" fill="#f9f9f9" stroke="#e0e0e0" stroke-width="0.5"/>
<polygon points="527.9,415 661.8,409.6 635.5,386.9 513.6,389.2" fill="#f5f5f5" stroke="#e0e0e0" stroke-width="0.5"/>
<g stroke="#b9b9b9" stroke-width="0.55" fill="none">
<path d="M536.42 414.66L521.36 389.05"/>
<path d="M521.36 389.05L519.86 300.45"/>
<path d="M559.79 413.71L542.63 388.65"/>
<path d="M542.63 388.65L541.41 301.67"/>
<path d="M583.16 412.77L563.91 388.25"/>
<path d="M563.91 388.25L562.97 302.89"/>
<path d="M606.54 411.83L585.19 387.85"/>
<path d="M585.19 387.85L584.53 304.11"/>
<path d="M629.91 410.89L606.47 387.45"/>
<path d="M606.47 387.45L606.09 305.33"/>
<path d="M653.28 409.94L627.74 387.05"/>
<path d="M627.74 387.05L627.64 306.55"/>
<path d="M526.92 413.23L659.99 408.04"/>
<path d="M659.99 408.04L660.64 312.49"/>
<path d="M524.27 408.46L655.13 403.84"/>
<path d="M655.13 403.84L655.65 311.4"/>
<path d="M521.71 403.83L650.41 399.77"/>
<path d="M650.41 399.77L650.81 310.34"/>
<path d="M519.22 399.33L645.83 395.81"/>
<path d="M645.83 395.81L646.1 309.32"/>
<path d="M516.79 394.96L641.37 391.97"/>
<path d="M641.37 391.97L641.53 308.32"/>
<path d="M514.44 390.72L637.05 388.24"/>
<path d="M637.05 388.24L637.09 307.35"/>
<path d="M513.49 382.9L635.5 381.26"/>
<path d="M635.5 381.26L661.85 402.77"/>
<path d="M513.23 368.35L635.5 368.22"/>
<path d="M635.5 368.22L661.96 386.99"/>
<path d="M512.96 353.79L635.5 355.18"/>
<path d="M635.5 355.18L662.08 371.21"/>
<path d="M512.7 339.23L635.5 342.14"/>
<path d="M635.5 342.14L662.19 355.43"/>
<path d="M512.44 324.67L635.5 329.1"/>
<path d="M635.5 329.1L662.31 339.65"/>
<path d="M512.18 310.12L635.5 316.06"/>
<path d="M635.5 316.06L662.42 323.87"/>
</g>
<g stroke="#222" stroke-width="0.7" stroke-linecap="square">
<path d="M513.6 389.2L512 300"/>
<path d="M527.9 415L513.6 389.2"/>
<path d="M527.9 415L661.8 409.6"/>
<path d="M515.02 382.88L512.47 382.92"/>
<path d="M514.76 368.35L512.21 368.35"/>
<path d="M514.49 353.81L511.94 353.78"/>
<path d="M514.23 339.27L511.68 339.21"/>
<path d="M513.97 324.73L511.42 324.64"/>
<path d="M513.71 310.19L511.16 310.07"/>
<path d="M535.64 413.34L536.94 415.54"/>
<path d="M558.93 412.45L560.37 414.56"/>
<path d="M582.22 411.57L583.79 413.57"/>
<path d="M605.52 410.69L607.21 412.59"/>
<path d="M628.83 409.8L630.63 411.61"/>
<path d="M652.14 408.92L654.04 410.62"/>
<path d="M528.45 413.17L525.9 413.27"/>
<path d="M525.8 408.4L523.25 408.49"/>
<path d="M523.24 403.78L520.69 403.86"/>
<path d="M520.74 399.29L518.2 399.36"/>
<path d="M518.32 394.93L515.77 394.99"/>
<path d="M515.97 390.69L513.42 390.74"/>
</g>
<text transform="translate(509.6 384.5) scale(1 1.25)" font-size="6" text-anchor="end" font-weight="bold" font-family="'DejaVu Sans', sans-serif" fill="#000" dy="0.36em">0.0</text>
<text transform="translate(509.6 369.94) scale(1 1.25)" font-size="6" text-anchor="end" font-weight="bold" font-family="'DejaVu Sans', sans-serif" fill="#000" dy="0.36em">0.2</text>
<text transform="translate(509.6 355.38) scale(1 1.25)" font-size="6" text-anchor="end" font-weight="bold" font-family="'DejaVu Sans', sans-serif" fill="#000" dy="0.36em">0.4</text>
<text transform="translate(509.6 340.82) scale(1 1.25)" font-size="6" text-anchor="end" font-weight="bold" font-family="'DejaVu Sans', sans-serif" fill="#000" dy="0.36em">0.6</text>
<text transform="translate(509.6 326.26) scale(1 1.25)" font-size="6" text-anchor="end" font-weight="bold" font-family="'DejaVu Sans', sans-serif" fill="#000" dy="0.36em">0.8</text>
<text transform="translate(509.6 311.7) scale(1 1.25)" font-size="6" text-anchor="end" font-weight="bold" font-family="'DejaVu Sans', sans-serif" fill="#000" dy="0.36em">1.0</text>
<text transform="translate(538.3 430.3) rotate(-90) scale(1.1 1)" font-size="6.5" text-anchor="middle" font-weight="bold" font-family="'DejaVu Sans', sans-serif" fill="#000" dy="0.36em">0.0</text>
<text transform="translate(561.96 429.26) rotate(-90) scale(1.1 1)" font-size="6.5" text-anchor="middle" font-weight="bold" font-family="'DejaVu Sans', sans-serif" fill="#000" dy="0.36em">0.2</text>
<text transform="translate(585.62 428.22) rotate(-90) scale(1.1 1)" font-size="6.5" text-anchor="middle" font-weight="bold" font-family="'DejaVu Sans', sans-serif" fill="#000" dy="0.36em">0.4</text>
<text transform="translate(609.28 427.18) rotate(-90) scale(1.1 1)" font-size="6.5" text-anchor="middle" font-weight="bold" font-family="'DejaVu Sans', sans-serif" fill="#000" dy="0.36em">0.6</text>
<text transform="translate(632.94 426.14) rotate(-90) scale(1.1 1)" font-size="6.5" text-anchor="middle" font-weight="bold" font-family="'DejaVu Sans', sans-serif" fill="#000" dy="0.36em">0.8</text>
<text transform="translate(656.6 425.1) rotate(-90) scale(1.1 1)" font-size="6.5" text-anchor="middle" font-weight="bold" font-family="'DejaVu Sans', sans-serif" fill="#000" dy="0.36em">1.0</text>
<text transform="translate(517.5 428.5) rotate(-42) scale(1.2 1)" font-size="6.7" text-anchor="middle" font-weight="bold" font-family="'DejaVu Sans', sans-serif" fill="#000" dy="0.36em">0.0</text>
<text transform="translate(515.28 422.96) rotate(-42) scale(1.2 1)" font-size="6.7" text-anchor="middle" font-weight="bold" font-family="'DejaVu Sans', sans-serif" fill="#000" dy="0.36em">0.2</text>
<text transform="translate(513.06 417.42) rotate(-42) scale(1.2 1)" font-size="6.7" text-anchor="middle" font-weight="bold" font-family="'DejaVu Sans', sans-serif" fill="#000" dy="0.36em">0.4</text>
<text transform="translate(510.84 411.88) rotate(-42) scale(1.2 1)" font-size="6.7" text-anchor="middle" font-weight="bold" font-family="'DejaVu Sans', sans-serif" fill="#000" dy="0.36em">0.6</text>
<text transform="translate(508.62 406.34) rotate(-42) scale(1.2 1)" font-size="6.7" text-anchor="middle" font-weight="bold" font-family="'DejaVu Sans', sans-serif" fill="#000" dy="0.36em">0.8</text>
<text transform="translate(506.4 400.8) rotate(-42) scale(1.2 1)" font-size="6.7" text-anchor="middle" font-weight="bold" font-family="'DejaVu Sans', sans-serif" fill="#000" dy="0.36em">1.0</text>
<text transform="translate(493.2 342.2) rotate(89) scale(1.02 1)" font-size="8" text-anchor="middle" font-weight="bold" font-family="'DejaVu Sans', sans-serif" fill="#000" dy="0.36em">Volumetric efficiency</text>
<text transform="translate(490.8 423.3) rotate(59.7)" font-size="8.15" text-anchor="middle" font-weight="bold" font-family="'DejaVu Sans', sans-serif" fill="#000" dy="0.36em">Blending ratio</text>
<text transform="translate(601.9 442.8) rotate(-2)" font-size="8.35" text-anchor="middle" font-weight="bold" font-family="'DejaVu Sans', sans-serif" fill="#000" dy="0.36em">Engine load</text>
<g opacity="0.92" stroke-width="0.4" stroke-linejoin="round">
<polygon points="521.04,310.94 533.07,311.46 548.09,335.95 535.09,336.41" fill="#c87d37" stroke="#c87d37"/>
<polygon points="533.07,311.46 545.1,311.97 561.1,335.49 548.09,335.95" fill="#c87d37" stroke="#c87d37"/>
<polygon points="545.1,311.97 557.28,325.55 574.12,350.69 561.1,335.49" fill="#b06e30" stroke="#b06e30"/>
<polygon points="557.28,325.55 569.29,325.94 587.1,350.22 574.12,350.69" fill="#c87d37" stroke="#c87d37"/>
<polygon points="569.29,325.94 581.39,338.66 600.07,364.62 587.1,350.22" fill="#b16f30" stroke="#b16f30"/>
<polygon points="581.39,338.66 593.38,338.92 613.04,364.14 600.07,364.62" fill="#c87d37" stroke="#c87d37"/>
<polygon points="593.38,338.92 605.44,357.11 625.92,384.76 613.04,364.14" fill="#a7682e" stroke="#a7682e"/>
<polygon points="605.44,357.11 617.39,357.19 638.87,384.27 625.92,384.76" fill="#c87d37" stroke="#c87d37"/>
<polygon points="617.39,357.19 629.36,370.31 651.71,400.17 638.87,384.27" fill="#af6d30" stroke="#af6d30"/>
</g>
<g opacity="0.92" stroke-width="0.4" stroke-linejoin="round">
<polygon points="520.98,307.31 533.14,316.18 548.13,345.1 535.09,337.19" fill="#2f74a2" stroke="#2f74a2"/>
<polygon points="533.14,316.18 545.27,324.89 561.14,352.99 548.13,345.1" fill="#2f74a2" stroke="#2f74a2"/>
<polygon points="545.27,324.89 557.36,332.5 574.13,359.31 561.14,352.99" fill="#2f74a2" stroke="#2f74a2"/>
<polygon points="557.36,332.5 569.42,339.66 587.1,365.09 574.13,359.31" fill="#2f74a2" stroke="#2f74a2"/>
<polygon points="569.42,339.66 581.45,346.69 600.06,371.01 587.1,365.09" fill="#2f74a2" stroke="#2f74a2"/>
<polygon points="581.45,346.69 593.47,353.57 613.01,376.08 600.06,371.01" fill="#2f74a2" stroke="#2f74a2"/>
<polygon points="593.47,353.57 605.45,360.18 625.94,380.32 613.01,376.08" fill="#2f74a2" stroke="#2f74a2"/>
<polygon points="605.45,360.18 617.42,366.2 638.86,385.12 625.94,380.32" fill="#2f74a2" stroke="#2f74a2"/>
<polygon points="617.42,366.2 629.36,372.11 651.77,390.02 638.86,385.12" fill="#2f74a2" stroke="#2f74a2"/>
</g>
<g opacity="0.9" stroke-width="0.4" stroke-linejoin="round">
<polygon points="521.02,310.22 533.09,313.26 548.11,339.01 535.09,336.64" fill="#a81e24" stroke="#a81e24"/>
<polygon points="533.09,313.26 545.22,321.03 561.12,346.54 548.11,339.01" fill="#a81e24" stroke="#a81e24"/>
<polygon points="545.22,321.03 557.31,328.17 574.12,353.59 561.12,346.54" fill="#a81e24" stroke="#a81e24"/>
<polygon points="557.31,328.17 569.37,334.69 587.1,360.16 574.12,353.59" fill="#a81e24" stroke="#a81e24"/>
<polygon points="569.37,334.69 581.41,341.43 600.07,366.73 587.1,360.16" fill="#a81e24" stroke="#a81e24"/>
<polygon points="581.41,341.43 593.45,350.65 613.01,375.55 600.07,366.73" fill="#a81e24" stroke="#a81e24"/>
<polygon points="593.45,350.65 605.45,358.81 625.93,383.67 613.01,375.55" fill="#a81e24" stroke="#a81e24"/>
<polygon points="605.45,358.81 617.41,364.99 638.84,390.13 625.93,383.67" fill="#a81e24" stroke="#a81e24"/>
<polygon points="617.41,364.99 629.36,371.31 651.73,396.89 638.84,390.13" fill="#a81e24" stroke="#a81e24"/>
</g>
<g opacity="0.86" stroke-width="0.4" stroke-linejoin="round">
<polygon points="521.05,311.67 533.08,312.18 548.09,335.95 535.09,336.41" fill="#22601c" stroke="#22601c"/>
<polygon points="533.08,312.18 545.28,326.24 561.13,351.16 548.09,335.95" fill="#276321" stroke="#276321"/>
<polygon points="545.28,326.24 557.29,326.61 574.12,350.69 561.13,351.16" fill="#22601c" stroke="#22601c"/>
<polygon points="557.29,326.61 569.41,338.67 587.1,365.09 574.12,350.69" fill="#266320" stroke="#266320"/>
<polygon points="569.41,338.67 581.39,338.93 600.07,364.62 587.1,365.09" fill="#22601c" stroke="#22601c"/>
<polygon points="581.39,338.93 593.5,359.29 612.98,386.35 600.07,364.62" fill="#296523" stroke="#296523"/>
<polygon points="593.5,359.29 605.45,359.35 625.92,385.85 612.98,386.35" fill="#22601c" stroke="#22601c"/>
<polygon points="605.45,359.35 617.43,371.64 638.78,401.06 625.92,385.85" fill="#276321" stroke="#276321"/>
<polygon points="617.43,371.64 629.36,371.57 651.7,400.56 638.78,401.06" fill="#22601c" stroke="#22601c"/>
</g>
<g stroke="#36a030" stroke-width="0.9" opacity="0.75" stroke-linecap="round">
<path d="M533.08 312.18L548.09 335.95"/>
<path d="M545.28 326.24L561.13 351.16"/>
<path d="M557.29 326.61L574.12 350.69"/>
<path d="M569.41 338.67L587.1 365.09"/>
<path d="M581.39 338.93L600.07 364.62"/>
<path d="M593.5 359.29L612.98 386.35"/>
<path d="M605.45 359.35L625.92 385.85"/>
<path d="M617.43 371.64L638.78 401.06"/>
</g>
<g fill="#d6cf14" stroke="#bdb60a" stroke-width="0.2">
<path d="M521.05 310.42L522.3 312.79L519.8 312.79Z"/>
<path d="M524.58 316.67L525.83 319.05L523.33 319.05Z"/>
<path d="M528.1 323.01L529.35 325.38L526.85 325.38Z"/>
<path d="M531.6 329.43L532.85 331.81L530.35 331.81Z"/>
<path d="M535.09 335.39L536.34 337.77L533.84 337.77Z"/>
<path d="M564.39 352.14L565.64 354.52L563.14 354.52Z"/>
<path d="M593.58 365.95L594.83 368.33L592.33 368.33Z"/>
<path d="M622.68 386.76L623.93 389.13L621.43 389.13Z"/>
<path d="M651.69 401.26L652.94 403.64L650.44 403.64Z"/>
<path d="M579.01 349.88L580.26 352.26L577.76 352.26Z"/>
<path d="M633 375.65L634.25 378.02L631.75 378.02Z"/>
<path d="M638.9 383.95L640.15 386.32L637.65 386.32Z"/>
<path d="M645.4 391.45L646.65 393.82L644.15 393.82Z"/>
</g>
<rect x="613.5" y="262.1" width="65.1" height="44.2" rx="1.3" fill="#fff" fill-opacity="0.8" stroke="#cfcfcf" stroke-width="0.55"/>
<rect x="616" y="264.85" width="12" height="3.9" fill="#3b7aa6"/>
<text transform="translate(633 266.8)" font-size="6" text-anchor="start" font-weight="normal" font-family="'DejaVu Sans', sans-serif" fill="#1a1a1a" dy="0.36em">MLP</text>
<rect x="616" y="273.35" width="12" height="3.9" fill="#dc8740"/>
<text transform="translate(633 275.3)" font-size="6" text-anchor="start" font-weight="normal" font-family="'DejaVu Sans', sans-serif" fill="#1a1a1a" dy="0.36em">xgb</text>
<rect x="616" y="282.05" width="12" height="3.9" fill="#3c7c40"/>
<text transform="translate(633 284)" font-size="6" text-anchor="start" font-weight="normal" font-family="'DejaVu Sans', sans-serif" fill="#1a1a1a" dy="0.36em">RandomForest</text>
<rect x="616" y="290.55" width="12" height="3.9" fill="#c8494c"/>
<text transform="translate(633 292.5)" font-size="6" text-anchor="start" font-weight="normal" font-family="'DejaVu Sans', sans-serif" fill="#1a1a1a" dy="0.36em">Final</text>
<path d="M622 300.1L623.7 303.33L620.3 303.33Z" fill="#cdc714"/>
<text transform="translate(633 301.8)" font-size="6" text-anchor="start" font-weight="normal" font-family="'DejaVu Sans', sans-serif" fill="#1a1a1a" dy="0.36em">Acual</text>
</g>
<g id="plot-g">
<polygon points="50.8,650.3 176.5,649.1 176.5,557.4 49.1,551.9" fill="#efefef" stroke="#e0e0e0" stroke-width="0.45"/>
<polygon points="176.5,649.1 205.5,673.9 206.2,566 176.5,557.4" fill="#f9f9f9" stroke="#e0e0e0" stroke-width="0.5"/>
<polygon points="65.7,678.9 205.5,673.9 176.5,649.1 50.8,650.3" fill="#f5f5f5" stroke="#e0e0e0" stroke-width="0.5"/>
<g stroke="#b9b9b9" stroke-width="0.55" fill="none">
<path d="M74.59 678.58L58.8 650.22"/>
<path d="M58.8 650.22L57.21 552.25"/>
<path d="M99 677.71L80.74 650.01"/>
<path d="M80.74 650.01L79.44 553.21"/>
<path d="M123.4 676.84L102.68 649.8"/>
<path d="M102.68 649.8L101.68 554.17"/>
<path d="M147.8 675.96L124.62 649.6"/>
<path d="M124.62 649.6L123.92 555.13"/>
<path d="M172.2 675.09L146.56 649.39"/>
<path d="M146.56 649.39L146.16 556.09"/>
<path d="M196.61 674.22L168.5 649.18"/>
<path d="M168.5 649.18L168.39 557.05"/>
<path d="M64.68 676.93L203.51 672.19"/>
<path d="M203.51 672.19L204.16 565.41"/>
<path d="M61.92 671.65L198.14 667.61"/>
<path d="M198.14 667.61L198.67 563.82"/>
<path d="M59.25 666.51L192.94 663.16"/>
<path d="M192.94 663.16L193.34 562.28"/>
<path d="M56.65 661.53L187.89 658.84"/>
<path d="M187.89 658.84L188.16 560.78"/>
<path d="M54.13 656.69L182.98 654.64"/>
<path d="M182.98 654.64L183.13 559.32"/>
<path d="M51.68 651.98L178.21 650.56"/>
<path d="M178.21 650.56L178.25 557.91"/>
<path d="M50.69 644.1L176.5 643.32"/>
<path d="M176.5 643.32L205.54 667.1"/>
<path d="M50.4 626.99L176.5 627.38"/>
<path d="M176.5 627.38L205.67 648.34"/>
<path d="M50.1 609.89L176.5 611.44"/>
<path d="M176.5 611.44L205.79 629.59"/>
<path d="M49.81 592.78L176.5 595.5"/>
<path d="M176.5 595.5L205.91 610.83"/>
<path d="M49.51 575.68L176.5 579.56"/>
<path d="M176.5 579.56L206.03 592.07"/>
<path d="M49.22 558.57L176.5 563.62"/>
<path d="M176.5 563.62L206.15 573.32"/>
</g>
<g stroke="#222" stroke-width="0.7" stroke-linecap="square">
<path d="M50.8 650.3L49.1 551.9"/>
<path d="M65.7 678.9L50.8 650.3"/>
<path d="M65.7 678.9L205.5 673.9"/>
<path d="M52.22 644.09L49.67 644.11"/>
<path d="M51.93 627L49.38 626.99"/>
<path d="M51.63 609.91L49.08 609.88"/>
<path d="M51.34 592.82L48.79 592.76"/>
<path d="M51.04 575.72L48.49 575.65"/>
<path d="M50.74 558.63L48.2 558.53"/>
<path d="M73.85 677.25L75.09 679.47"/>
<path d="M98.15 676.43L99.56 678.56"/>
<path d="M122.47 675.62L124.02 677.65"/>
<path d="M146.79 674.81L148.47 676.73"/>
<path d="M171.12 674.01L172.92 675.81"/>
<path d="M195.46 673.2L197.37 674.9"/>
<path d="M66.2 676.88L63.66 676.97"/>
<path d="M63.45 671.6L60.9 671.68"/>
<path d="M60.78 666.48L58.23 666.54"/>
<path d="M58.18 661.5L55.63 661.55"/>
<path d="M55.66 656.66L53.11 656.7"/>
<path d="M53.21 651.97L50.66 651.99"/>
</g>
<text transform="translate(47.1 645.1) scale(1 1.15)" font-size="6.5" text-anchor="end" font-weight="bold" font-family="'DejaVu Sans', sans-serif" fill="#000" dy="0.36em">0.0</text>
<text transform="translate(47.1 627.98) scale(1 1.15)" font-size="6.5" text-anchor="end" font-weight="bold" font-family="'DejaVu Sans', sans-serif" fill="#000" dy="0.36em">0.2</text>
<text transform="translate(47.1 610.86) scale(1 1.15)" font-size="6.5" text-anchor="end" font-weight="bold" font-family="'DejaVu Sans', sans-serif" fill="#000" dy="0.36em">0.4</text>
<text transform="translate(47.1 593.74) scale(1 1.15)" font-size="6.5" text-anchor="end" font-weight="bold" font-family="'DejaVu Sans', sans-serif" fill="#000" dy="0.36em">0.6</text>
<text transform="translate(47.1 576.62) scale(1 1.15)" font-size="6.5" text-anchor="end" font-weight="bold" font-family="'DejaVu Sans', sans-serif" fill="#000" dy="0.36em">0.8</text>
<text transform="translate(47.1 559.5) scale(1 1.15)" font-size="6.5" text-anchor="end" font-weight="bold" font-family="'DejaVu Sans', sans-serif" fill="#000" dy="0.36em">1.0</text>
<text transform="translate(76.4 695.7) rotate(-90) scale(1.1 1)" font-size="6.6" text-anchor="middle" font-weight="bold" font-family="'DejaVu Sans', sans-serif" fill="#000" dy="0.36em">0.0</text>
<text transform="translate(100.98 694.72) rotate(-90) scale(1.1 1)" font-size="6.6" text-anchor="middle" font-weight="bold" font-family="'DejaVu Sans', sans-serif" fill="#000" dy="0.36em">0.2</text>
<text transform="translate(125.56 693.74) rotate(-90) scale(1.1 1)" font-size="6.6" text-anchor="middle" font-weight="bold" font-family="'DejaVu Sans', sans-serif" fill="#000" dy="0.36em">0.4</text>
<text transform="translate(150.14 692.76) rotate(-90) scale(1.1 1)" font-size="6.6" text-anchor="middle" font-weight="bold" font-family="'DejaVu Sans', sans-serif" fill="#000" dy="0.36em">0.6</text>
<text transform="translate(174.72 691.78) rotate(-90) scale(1.1 1)" font-size="6.6" text-anchor="middle" font-weight="bold" font-family="'DejaVu Sans', sans-serif" fill="#000" dy="0.36em">0.8</text>
<text transform="translate(199.3 690.8) rotate(-90) scale(1.1 1)" font-size="6.6" text-anchor="middle" font-weight="bold" font-family="'DejaVu Sans', sans-serif" fill="#000" dy="0.36em">1.0</text>
<text transform="translate(56 693.4) rotate(-42) scale(1.2 1)" font-size="6.8" text-anchor="middle" font-weight="bold" font-family="'DejaVu Sans', sans-serif" fill="#000" dy="0.36em">0.0</text>
<text transform="translate(53.28 687.6) rotate(-42) scale(1.2 1)" font-size="6.8" text-anchor="middle" font-weight="bold" font-family="'DejaVu Sans', sans-serif" fill="#000" dy="0.36em">0.2</text>
<text transform="translate(50.56 681.8) rotate(-42) scale(1.2 1)" font-size="6.8" text-anchor="middle" font-weight="bold" font-family="'DejaVu Sans', sans-serif" fill="#000" dy="0.36em">0.4</text>
<text transform="translate(47.84 676) rotate(-42) scale(1.2 1)" font-size="6.8" text-anchor="middle" font-weight="bold" font-family="'DejaVu Sans', sans-serif" fill="#000" dy="0.36em">0.6</text>
<text transform="translate(45.12 670.2) rotate(-42) scale(1.2 1)" font-size="6.8" text-anchor="middle" font-weight="bold" font-family="'DejaVu Sans', sans-serif" fill="#000" dy="0.36em">0.8</text>
<text transform="translate(42.4 664.4) rotate(-42) scale(1.2 1)" font-size="6.8" text-anchor="middle" font-weight="bold" font-family="'DejaVu Sans', sans-serif" fill="#000" dy="0.36em">1.0</text>
<text transform="translate(29.8 598.9) rotate(90) scale(1.06 1)" font-size="8.5" text-anchor="middle" font-weight="bold" font-family="'DejaVu Sans', sans-serif" fill="#000" dy="0.36em">Air- fuel ratio</text>
<text transform="translate(27.3 688.8) rotate(60.8)" font-size="8.9" text-anchor="middle" font-weight="bold" font-family="'DejaVu Sans', sans-serif" fill="#000" dy="0.36em">Blending ratio</text>
<text transform="translate(142.7 710.6) rotate(-1)" font-size="8.6" text-anchor="middle" font-weight="bold" font-family="'DejaVu Sans', sans-serif" fill="#000" dy="0.36em">Engine load</text>
<polygon points="59.39,572.41 74.78,578.61 94.64,589.28 119.45,604.18 144.27,619.07 164.12,626.51 183.98,633.96 194.4,638.92 191.42,641.9 176.53,643.39 161.64,637.68 144.27,629.74 119.45,614.1 102.08,602.19 77.26,590.28 67.34,581.09 59.39,572.91" fill="#377daa" fill-opacity="0.95"/>
<polygon points="58.9,587.3 77.26,586.06 102.08,594.74 129.38,607.15 151.72,624.53 174.05,641.9 194.4,655.05 194.4,656.79 183.98,656.29 174.05,652.32 164.12,644.88 151.72,632.47 141.79,626.26 129.38,613.85 114.49,602.69 102.08,597.72 87.19,594.99 77.26,590.03 58.9,589.78" fill="#2d9646" fill-opacity="0.95"/>
<polygon points="90.91,593.5 102.08,597.72 114.49,602.69 119.45,608.39 129.38,613.85 141.79,626.26 146.75,629.99 126.9,618.32 107.04,605.91 94.64,597.23" fill="#377daa" fill-opacity="0.95"/>
<polygon points="69.32,571.66 95.88,571.17 108.28,577.87 100.84,578.86 92.15,575.39 69.32,574.89" fill="#e18228" fill-opacity="0.95"/>
<polygon points="165.61,619.31 176.53,618.57 181.5,623.28 188.94,639.42 194.65,655.8 183.98,637.43 177.77,626.51 171.07,625.02" fill="#e18228" fill-opacity="0.95"/>
<polygon points="58.9,589.28 61.88,581.09 64.85,576.88 68.58,574.64 95.88,575.14 100.84,578.37 123.92,577.62 130.62,583.58 137.32,590.77 150.47,590.03 156.18,594.25 166.11,619.56 170.33,624.03 177.77,625.77 183.98,634.95 194.4,655.8 194.4,656.04 188.94,654.56 179.01,649.59 169.09,639.66 161.64,630.98 154.2,627.26 140.55,624.77 131.86,613.61 119.45,612.37 116.97,604.42 112.01,597.47 104.56,594.5 94.64,591.27 85.95,588.04 76.02,589.53 58.9,589.53" fill="#c43327" fill-opacity="0.96"/>
<polygon points="68.58,574.64 95.88,575.14 100.84,578.37 123.92,577.62 130.62,583.58 119.45,585.31 104.56,582.34 90.91,580.85 74.78,579.85 66.84,578.37" fill="#8c1914" fill-opacity="0.75"/>
<polygon points="137.32,590.77 150.47,590.03 156.18,594.25 144.77,596.23" fill="#8c1914" fill-opacity="0.75"/>
<polygon points="58.9,589.28 61.88,581.09 64.85,576.88 74.78,579.85 72.3,584.82 76.02,589.53" fill="#8c1914" fill-opacity="0.45"/>
<polygon points="166.11,619.56 170.33,624.03 177.77,625.77 174.05,630.73 161.64,630.98 154.2,627.26" fill="#8c1914" fill-opacity="0.4"/>
<polygon points="144.77,596.23 156.18,594.25 166.11,619.56 154.2,627.26 149.23,613.36" fill="#d84434" fill-opacity="0.5"/>
<polygon points="119.45,585.31 130.62,583.58 137.32,590.77 140.55,609.64 131.86,613.61 124.42,599.71" fill="#d84434" fill-opacity="0.4"/>
<polygon points="182.99,632.47 194.4,638.92 191.42,641.9 186.96,638.92" fill="#377daa" fill-opacity="0.9"/>
<g fill="#d6cf14" stroke="#bdb60a" stroke-width="0.2">
<path d="M59.39 588.03L60.64 590.41L58.14 590.41Z"/>
<path d="M61.88 585.55L63.13 587.93L60.63 587.93Z"/>
<path d="M65.35 579.84L66.6 582.22L64.1 582.22Z"/>
<path d="M69.07 576.62L70.32 578.99L67.82 578.99Z"/>
<path d="M73.54 574.88L74.79 577.26L72.29 577.26Z"/>
<path d="M87.19 593.99L88.44 596.37L85.94 596.37Z"/>
<path d="M90.91 591.76L92.16 594.13L89.66 594.13Z"/>
<path d="M95.38 586.05L96.63 588.42L94.13 588.42Z"/>
<path d="M99.6 583.57L100.85 585.94L98.35 585.94Z"/>
<path d="M104.56 581.58L105.81 583.96L103.31 583.96Z"/>
<path d="M114.99 602.93L116.24 605.3L113.74 605.3Z"/>
<path d="M119.45 600.94L120.7 603.31L118.2 603.31Z"/>
<path d="M124.42 598.95L125.67 601.33L123.17 601.33Z"/>
<path d="M129.88 597.22L131.13 599.59L128.63 599.59Z"/>
<path d="M135.09 595.23L136.34 597.61L133.84 597.61Z"/>
<path d="M141.79 624.52L143.04 626.89L140.54 626.89Z"/>
<path d="M147.5 623.77L148.75 626.15L146.25 626.15Z"/>
<path d="M153.45 623.77L154.7 626.15L152.2 626.15Z"/>
<path d="M159.16 624.52L160.41 626.89L157.91 626.89Z"/>
<path d="M165.37 622.78L166.62 625.15L164.12 625.15Z"/>
<path d="M169.09 640.15L170.34 642.53L167.84 642.53Z"/>
<path d="M174.8 643.87L176.05 646.25L173.55 646.25Z"/>
<path d="M181.5 648.09L182.75 650.47L180.25 650.47Z"/>
<path d="M187.7 651.82L188.95 654.19L186.45 654.19Z"/>
<path d="M194.65 654.79L195.9 657.17L193.4 657.17Z"/>
</g>
<rect x="154.9" y="509.4" width="68.3" height="49" rx="1.3" fill="#fff" fill-opacity="0.8" stroke="#cfcfcf" stroke-width="0.55"/>
<rect x="157.4" y="512.6" width="12.9" height="4.2" fill="#3c7da9"/>
<text transform="translate(175.3 514.7)" font-size="6.24" text-anchor="start" font-weight="normal" font-family="'DejaVu Sans', sans-serif" fill="#1a1a1a" dy="0.36em">MLP</text>
<rect x="157.4" y="522.1" width="12.9" height="4.2" fill="#f0913c"/>
<text transform="translate(175.3 524.2)" font-size="6.24" text-anchor="start" font-weight="normal" font-family="'DejaVu Sans', sans-serif" fill="#1a1a1a" dy="0.36em">xgb</text>
<rect x="157.4" y="531.6" width="12.9" height="4.2" fill="#3a8c46"/>
<text transform="translate(175.3 533.7)" font-size="6.24" text-anchor="start" font-weight="normal" font-family="'DejaVu Sans', sans-serif" fill="#1a1a1a" dy="0.36em">RandomForest</text>
<rect x="157.4" y="541.1" width="12.9" height="4.2" fill="#d0484a"/>
<text transform="translate(175.3 543.2)" font-size="6.24" text-anchor="start" font-weight="normal" font-family="'DejaVu Sans', sans-serif" fill="#1a1a1a" dy="0.36em">Final</text>
<path d="M163.85 552.1L165.55 555.33L162.15 555.33Z" fill="#cdc714"/>
<text transform="translate(175.3 553.8)" font-size="6.24" text-anchor="start" font-weight="normal" font-family="'DejaVu Sans', sans-serif" fill="#1a1a1a" dy="0.36em">Acual</text>
</g>
<g id="plot-h">
<polygon points="254.1,673.9 317,656.5 317,561.8 253.6,566" fill="#f9f9f9" stroke="#e0e0e0" stroke-width="0.45"/>
<polygon points="317,656.5 418,667.7 418.5,563.6 317,561.8" fill="#efefef" stroke="#e0e0e0" stroke-width="0.5"/>
<polygon points="254.1,673.9 362.2,683.3 418,667.7 317,656.5" fill="#f5f5f5" stroke="#e0e0e0" stroke-width="0.5"/>
<g stroke="#b9b9b9" stroke-width="0.55" fill="none">
<path d="M260.55 674.46L323.03 657.17"/>
<path d="M323.03 657.17L323.06 561.91"/>
<path d="M278.54 676.03L339.84 659.03"/>
<path d="M339.84 659.03L339.95 562.21"/>
<path d="M296.95 677.63L357.04 660.94"/>
<path d="M357.04 660.94L357.24 562.51"/>
<path d="M315.8 679.27L374.65 662.89"/>
<path d="M374.65 662.89L374.93 562.83"/>
<path d="M335.1 680.94L392.68 664.89"/>
<path d="M392.68 664.89L393.06 563.15"/>
<path d="M354.87 682.66L411.15 666.94"/>
<path d="M411.15 666.94L411.62 563.48"/>
<path d="M365.98 682.24L258.36 672.72"/>
<path d="M258.36 672.72L257.9 565.72"/>
<path d="M376.18 679.39L269.86 669.54"/>
<path d="M269.86 669.54L269.49 564.95"/>
<path d="M386.14 676.61L281.09 666.43"/>
<path d="M281.09 666.43L280.81 564.2"/>
<path d="M395.87 673.89L292.06 663.4"/>
<path d="M292.06 663.4L291.86 563.47"/>
<path d="M405.38 671.23L302.77 660.44"/>
<path d="M302.77 660.44L302.66 562.75"/>
<path d="M414.67 668.63L313.24 657.54"/>
<path d="M313.24 657.54L313.21 562.05"/>
<path d="M254.07 666.78L317 650.25"/>
<path d="M317 650.25L418.03 660.83"/>
<path d="M253.98 648.29L317 634.02"/>
<path d="M317 634.02L418.12 642.99"/>
<path d="M253.9 629.8L317 617.79"/>
<path d="M317 617.79L418.2 625.15"/>
<path d="M253.81 611.31L317 601.56"/>
<path d="M317 601.56L418.29 607.31"/>
<path d="M253.72 592.81L317 585.33"/>
<path d="M317 585.33L418.38 589.47"/>
<path d="M253.64 574.32L317 569.1"/>
<path d="M317 569.1L418.46 571.63"/>
</g>
<g stroke="#222" stroke-width="0.7" stroke-linecap="square">
<path d="M418 667.7L418.5 563.6"/>
<path d="M362.2 683.3L418 667.7"/>
<path d="M254.1 673.9L362.2 683.3"/>
<path d="M416.51 660.67L419.05 660.94"/>
<path d="M416.59 642.86L419.13 643.08"/>
<path d="M416.68 625.04L419.22 625.22"/>
<path d="M416.76 607.22L419.31 607.37"/>
<path d="M416.85 589.41L419.39 589.51"/>
<path d="M416.93 571.59L419.48 571.65"/>
<path d="M262.03 674.05L259.57 674.73"/>
<path d="M280.02 675.62L277.56 676.3"/>
<path d="M298.43 677.22L295.97 677.9"/>
<path d="M317.28 678.86L314.82 679.54"/>
<path d="M336.58 680.53L334.12 681.22"/>
<path d="M356.35 682.25L353.89 682.94"/>
<path d="M364.46 682.11L367 682.33"/>
<path d="M374.66 679.25L377.2 679.49"/>
<path d="M384.62 676.46L387.16 676.7"/>
<path d="M394.35 673.73L396.89 673.99"/>
<path d="M403.86 671.07L406.39 671.34"/>
<path d="M413.15 668.47L415.68 668.74"/>
</g>
<text transform="translate(423 663.2) scale(1 1.25)" font-size="6" text-anchor="start" font-weight="bold" font-family="'DejaVu Sans', sans-serif" fill="#000" dy="0.36em">0.0</text>
<text transform="translate(423 645.4) scale(1 1.25)" font-size="6" text-anchor="start" font-weight="bold" font-family="'DejaVu Sans', sans-serif" fill="#000" dy="0.36em">0.2</text>
<text transform="translate(423 627.6) scale(1 1.25)" font-size="6" text-anchor="start" font-weight="bold" font-family="'DejaVu Sans', sans-serif" fill="#000" dy="0.36em">0.4</text>
<text transform="translate(423 609.8) scale(1 1.25)" font-size="6" text-anchor="start" font-weight="bold" font-family="'DejaVu Sans', sans-serif" fill="#000" dy="0.36em">0.6</text>
<text transform="translate(423 592) scale(1 1.25)" font-size="6" text-anchor="start" font-weight="bold" font-family="'DejaVu Sans', sans-serif" fill="#000" dy="0.36em">0.8</text>
<text transform="translate(423 574.2) scale(1 1.25)" font-size="6" text-anchor="start" font-weight="bold" font-family="'DejaVu Sans', sans-serif" fill="#000" dy="0.36em">1.0</text>
<text transform="translate(255.6 690) rotate(-90) scale(1.1 1)" font-size="6.5" text-anchor="middle" font-weight="bold" font-family="'DejaVu Sans', sans-serif" fill="#000" dy="0.36em">0.0</text>
<text transform="translate(274.54 691.98) rotate(-90) scale(1.1 1)" font-size="6.5" text-anchor="middle" font-weight="bold" font-family="'DejaVu Sans', sans-serif" fill="#000" dy="0.36em">0.2</text>
<text transform="translate(293.48 693.96) rotate(-90) scale(1.1 1)" font-size="6.5" text-anchor="middle" font-weight="bold" font-family="'DejaVu Sans', sans-serif" fill="#000" dy="0.36em">0.4</text>
<text transform="translate(312.42 695.94) rotate(-90) scale(1.1 1)" font-size="6.5" text-anchor="middle" font-weight="bold" font-family="'DejaVu Sans', sans-serif" fill="#000" dy="0.36em">0.6</text>
<text transform="translate(331.36 697.92) rotate(-90) scale(1.1 1)" font-size="6.5" text-anchor="middle" font-weight="bold" font-family="'DejaVu Sans', sans-serif" fill="#000" dy="0.36em">0.8</text>
<text transform="translate(350.3 699.9) rotate(-90) scale(1.1 1)" font-size="6.5" text-anchor="middle" font-weight="bold" font-family="'DejaVu Sans', sans-serif" fill="#000" dy="0.36em">1.0</text>
<text transform="translate(372.6 698.2) rotate(-45)" font-size="7.3" text-anchor="middle" font-weight="bold" font-family="'DejaVu Sans', sans-serif" fill="#000" dy="0.36em">0.0</text>
<text transform="translate(382.42 694.92) rotate(-45)" font-size="7.3" text-anchor="middle" font-weight="bold" font-family="'DejaVu Sans', sans-serif" fill="#000" dy="0.36em">0.2</text>
<text transform="translate(392.24 691.64) rotate(-45)" font-size="7.3" text-anchor="middle" font-weight="bold" font-family="'DejaVu Sans', sans-serif" fill="#000" dy="0.36em">0.4</text>
<text transform="translate(402.06 688.36) rotate(-45)" font-size="7.3" text-anchor="middle" font-weight="bold" font-family="'DejaVu Sans', sans-serif" fill="#000" dy="0.36em">0.6</text>
<text transform="translate(411.88 685.08) rotate(-45)" font-size="7.3" text-anchor="middle" font-weight="bold" font-family="'DejaVu Sans', sans-serif" fill="#000" dy="0.36em">0.8</text>
<text transform="translate(421.7 681.8) rotate(-45)" font-size="7.3" text-anchor="middle" font-weight="bold" font-family="'DejaVu Sans', sans-serif" fill="#000" dy="0.36em">1.0</text>
<text transform="translate(440 615) rotate(-90) scale(1.07 1)" font-size="8.5" text-anchor="middle" font-weight="bold" font-family="'DejaVu Sans', sans-serif" fill="#000" dy="0.36em">Fuel- air equivalence ratio</text>
<text transform="translate(417.3 702.4) rotate(-17)" font-size="7.9" text-anchor="middle" font-weight="bold" font-family="'DejaVu Sans', sans-serif" fill="#000" dy="0.36em">Blending ratio</text>
<text transform="translate(289.6 708.1) rotate(6)" font-size="7.8" text-anchor="middle" font-weight="bold" font-family="'DejaVu Sans', sans-serif" fill="#000" dy="0.36em">Engine load</text>
<polygon points="266.8,663.3 269,662 279.2,654.7 285,653.2 292.3,643.7 298.2,642.3 305.5,631.3 311.3,629.9 317.9,619.7 323,618.2 330,617.4 338.8,616.7 347.5,611.6 351.9,608.6 359.2,604.3 368,601.3 372.3,597 378.2,594.8 385.5,588.2 391.3,583.1 398.6,579.4 404.5,575.1 407.4,572.8 407.4,572.8 403,581.9 398.6,589.2 394.2,597.2 388.4,598.7 384.7,603.1 378.2,605.3 372.3,614.7 366.5,616.2 363.6,626.4 357.7,627.9 351.9,636.2 344,639.2 339.1,648.7 331.8,650.6 323,652 314.2,657.2 305.5,660.1 298.2,663.7 286.5,665.9 276.3,666.6 266.1,665.9" fill="#7c3d0c" fill-opacity="0.95"/>
<polygon points="286,656.5 300,655.5 304,657.5 290,658.5" fill="#b8621a" fill-opacity="0.5"/>
<polygon points="297,641.5 314,640.5 317,642.5 300,643.8" fill="#b8621a" fill-opacity="0.5"/>
<polygon points="311,629.5 328,628.5 331,630.5 314,631.8" fill="#b8621a" fill-opacity="0.5"/>
<polygon points="318,646 332,644.5 334,646.5 320,648" fill="#b8621a" fill-opacity="0.5"/>
<polygon points="336,623 350,622 352,624 338,625.2" fill="#b8621a" fill-opacity="0.5"/>
<polygon points="330,634 346,632.5 348,634.5 332,636" fill="#b8621a" fill-opacity="0.5"/>
<polygon points="280,660 296,655 306,656 298,663.7 286.5,665.9 279,664" fill="#e6c4a0" fill-opacity="0.18"/>
<polygon points="268,663.5 273,659.5 274.5,662 270,664.8" fill="#6e1a1c" fill-opacity="0.85"/>
<polygon points="388,586.5 398.6,579.8 404.5,575.6 407.4,572.8 403,579 396,584.5 390,588" fill="#6e1a1c" fill-opacity="0.8"/>
<polygon points="320.1,617.7 331.8,613.4 340.5,610.4 346,608 350.4,605.3 350.4,609 346,611.5 340.5,613.8 331.8,616.8 320.1,620.5" fill="#355f7c" fill-opacity="0.95"/>
<polygon points="267.5,663 271.5,660 272.5,661.5 269,664" fill="#355f7c" fill-opacity="0.9"/>
<polygon points="266.8,662.3 277.7,653.5 281.4,652.8 289.4,642.6 293.8,641.1 302.6,630.1 307.7,628.7 314.2,619.9 320.1,618.7 331.8,615.4 340.5,612.4 346,610 350.4,606.3 356.3,603.8 365,598 372.3,590.7 377.4,589.9 386.2,584.1 392.8,577.2 401.5,576.8 407.4,572.8 407.4,572.8 404.5,576.1 398.6,580.4 391.3,584.1 385.5,589.2 378.2,595.8 372.3,598 368,602.3 359.2,605.3 351.9,609.6 347.5,612.6 338.8,617.7 330,618.4 323,620.2 317.9,620.7 311.3,630.9 305.5,632.3 298.2,643.3 292.3,644.7 285,654.2 279.2,655.7 269.5,663 267.5,664.3" fill="#235c27" fill-opacity="0.94"/>
<g fill="#d6cf14" stroke="#bdb60a" stroke-width="0.2">
<path d="M264.6 665.1L265.85 667.48L263.35 667.48Z"/>
<path d="M279.64 652.55L280.89 654.92L278.39 654.92Z"/>
<path d="M287.23 657.66L288.48 660.03L285.98 660.03Z"/>
<path d="M293.5 640.87L294.75 643.24L292.25 643.24Z"/>
<path d="M301.39 645.25L302.64 647.62L300.14 647.62Z"/>
<path d="M310.29 650.36L311.54 652.73L309.04 652.73Z"/>
<path d="M306.93 629.63L308.18 632L305.68 632Z"/>
<path d="M315.26 633.57L316.51 635.94L314.01 635.94Z"/>
<path d="M324.16 637.95L325.41 640.32L322.91 640.32Z"/>
<path d="M319.78 616.49L321.03 618.86L318.53 618.86Z"/>
<path d="M328.39 622.33L329.64 624.7L327.14 624.7Z"/>
<path d="M333.94 628.17L335.19 630.54L332.69 630.54Z"/>
<path d="M337.59 625.98L338.84 628.35L336.34 628.35Z"/>
<path d="M340.95 611.38L342.2 613.75L339.7 613.75Z"/>
<path d="M347.52 616.05L348.77 618.42L346.27 618.42Z"/>
<path d="M340.95 612.03L342.2 614.41L339.7 614.41Z"/>
<path d="M334.09 628.39L335.34 630.76L332.84 630.76Z"/>
<path d="M337.59 626.2L338.84 628.57L336.34 628.57Z"/>
<path d="M347.52 615.98L348.77 618.35L346.27 618.35Z"/>
<path d="M350.73 614.66L351.98 617.04L349.48 617.04Z"/>
<path d="M358.47 607.95L359.72 610.32L357.22 610.32Z"/>
<path d="M360.66 604.74L361.91 607.11L359.41 607.11Z"/>
<path d="M362.85 604.44L364.1 606.82L361.6 606.82Z"/>
<path d="M371.61 598.46L372.86 600.83L370.36 600.83Z"/>
<path d="M373.07 598.17L374.32 600.54L371.82 600.54Z"/>
<path d="M384.74 587.22L385.99 589.59L383.49 589.59Z"/>
<path d="M396.42 580.94L397.67 583.31L395.17 583.31Z"/>
<path d="M408.1 570.43L409.35 572.8L406.85 572.8Z"/>
</g>
<rect x="365.1" y="516" width="60.7" height="48.7" rx="1.3" fill="#fff" fill-opacity="0.8" stroke="#cfcfcf" stroke-width="0.55"/>
<rect x="367.1" y="519.2" width="11.6" height="4.2" fill="#3d5f78"/>
<text transform="translate(383.1 521.3)" font-size="5.58" text-anchor="start" font-weight="normal" font-family="'DejaVu Sans', sans-serif" fill="#1a1a1a" dy="0.36em">MLP</text>
<rect x="367.1" y="528.8" width="11.6" height="4.2" fill="#9a6238"/>
<text transform="translate(383.1 530.9)" font-size="5.58" text-anchor="start" font-weight="normal" font-family="'DejaVu Sans', sans-serif" fill="#1a1a1a" dy="0.36em">xgb</text>
<rect x="367.1" y="538.5" width="11.6" height="4.2" fill="#3f7f45"/>
<text transform="translate(383.1 540.6)" font-size="5.58" text-anchor="start" font-weight="normal" font-family="'DejaVu Sans', sans-serif" fill="#1a1a1a" dy="0.36em">RandomForest</text>
<rect x="367.1" y="547.9" width="11.6" height="4.2" fill="#8a3c40"/>
<text transform="translate(383.1 550)" font-size="5.58" text-anchor="start" font-weight="normal" font-family="'DejaVu Sans', sans-serif" fill="#1a1a1a" dy="0.36em">Final</text>
<path d="M372.9 558.9L374.6 562.13L371.2 562.13Z" fill="#cdc714"/>
<text transform="translate(383.1 560.6)" font-size="5.58" text-anchor="start" font-weight="normal" font-family="'DejaVu Sans', sans-serif" fill="#1a1a1a" dy="0.36em">Acual</text>
</g>
<text x="115.6" y="240" font-size="14.6" font-weight="bold" text-anchor="middle" font-family="'Liberation Serif', serif" fill="#111">(a)</text>
<text x="346.3" y="238.5" font-size="14.6" font-weight="bold" text-anchor="middle" font-family="'Liberation Serif', serif" fill="#111">(b)</text>
<text x="575.3" y="237.5" font-size="14.6" font-weight="bold" text-anchor="middle" font-family="'Liberation Serif', serif" fill="#111">(c)</text>
<text x="115.6" y="488.5" font-size="14.6" font-weight="bold" text-anchor="middle" font-family="'Liberation Serif', serif" fill="#111">(d)</text>
<text x="346.3" y="488.5" font-size="14.6" font-weight="bold" text-anchor="middle" font-family="'Liberation Serif', serif" fill="#111">(e)</text>
<text x="575.3" y="491" font-size="14.6" font-weight="bold" text-anchor="middle" font-family="'Liberation Serif', serif" fill="#111">(f)</text>
<text x="8.8" y="762" font-size="14.6" font-weight="bold" text-anchor="middle" font-family="'Liberation Serif', serif" fill="#111">(g)</text>
<text x="253.6" y="755.5" font-size="14.6" font-weight="bold" text-anchor="middle" font-family="'Liberation Serif', serif" fill="#111">(h)</text>
<rect x="532.2" y="1.7" width="1.1" height="0.9" fill="#333"/><rect x="622.6" y="1.7" width="1.1" height="0.9" fill="#333"/><rect x="325" y="510.1" width="1.6" height="0.6" fill="#777"/>
</svg>
</body></html>
